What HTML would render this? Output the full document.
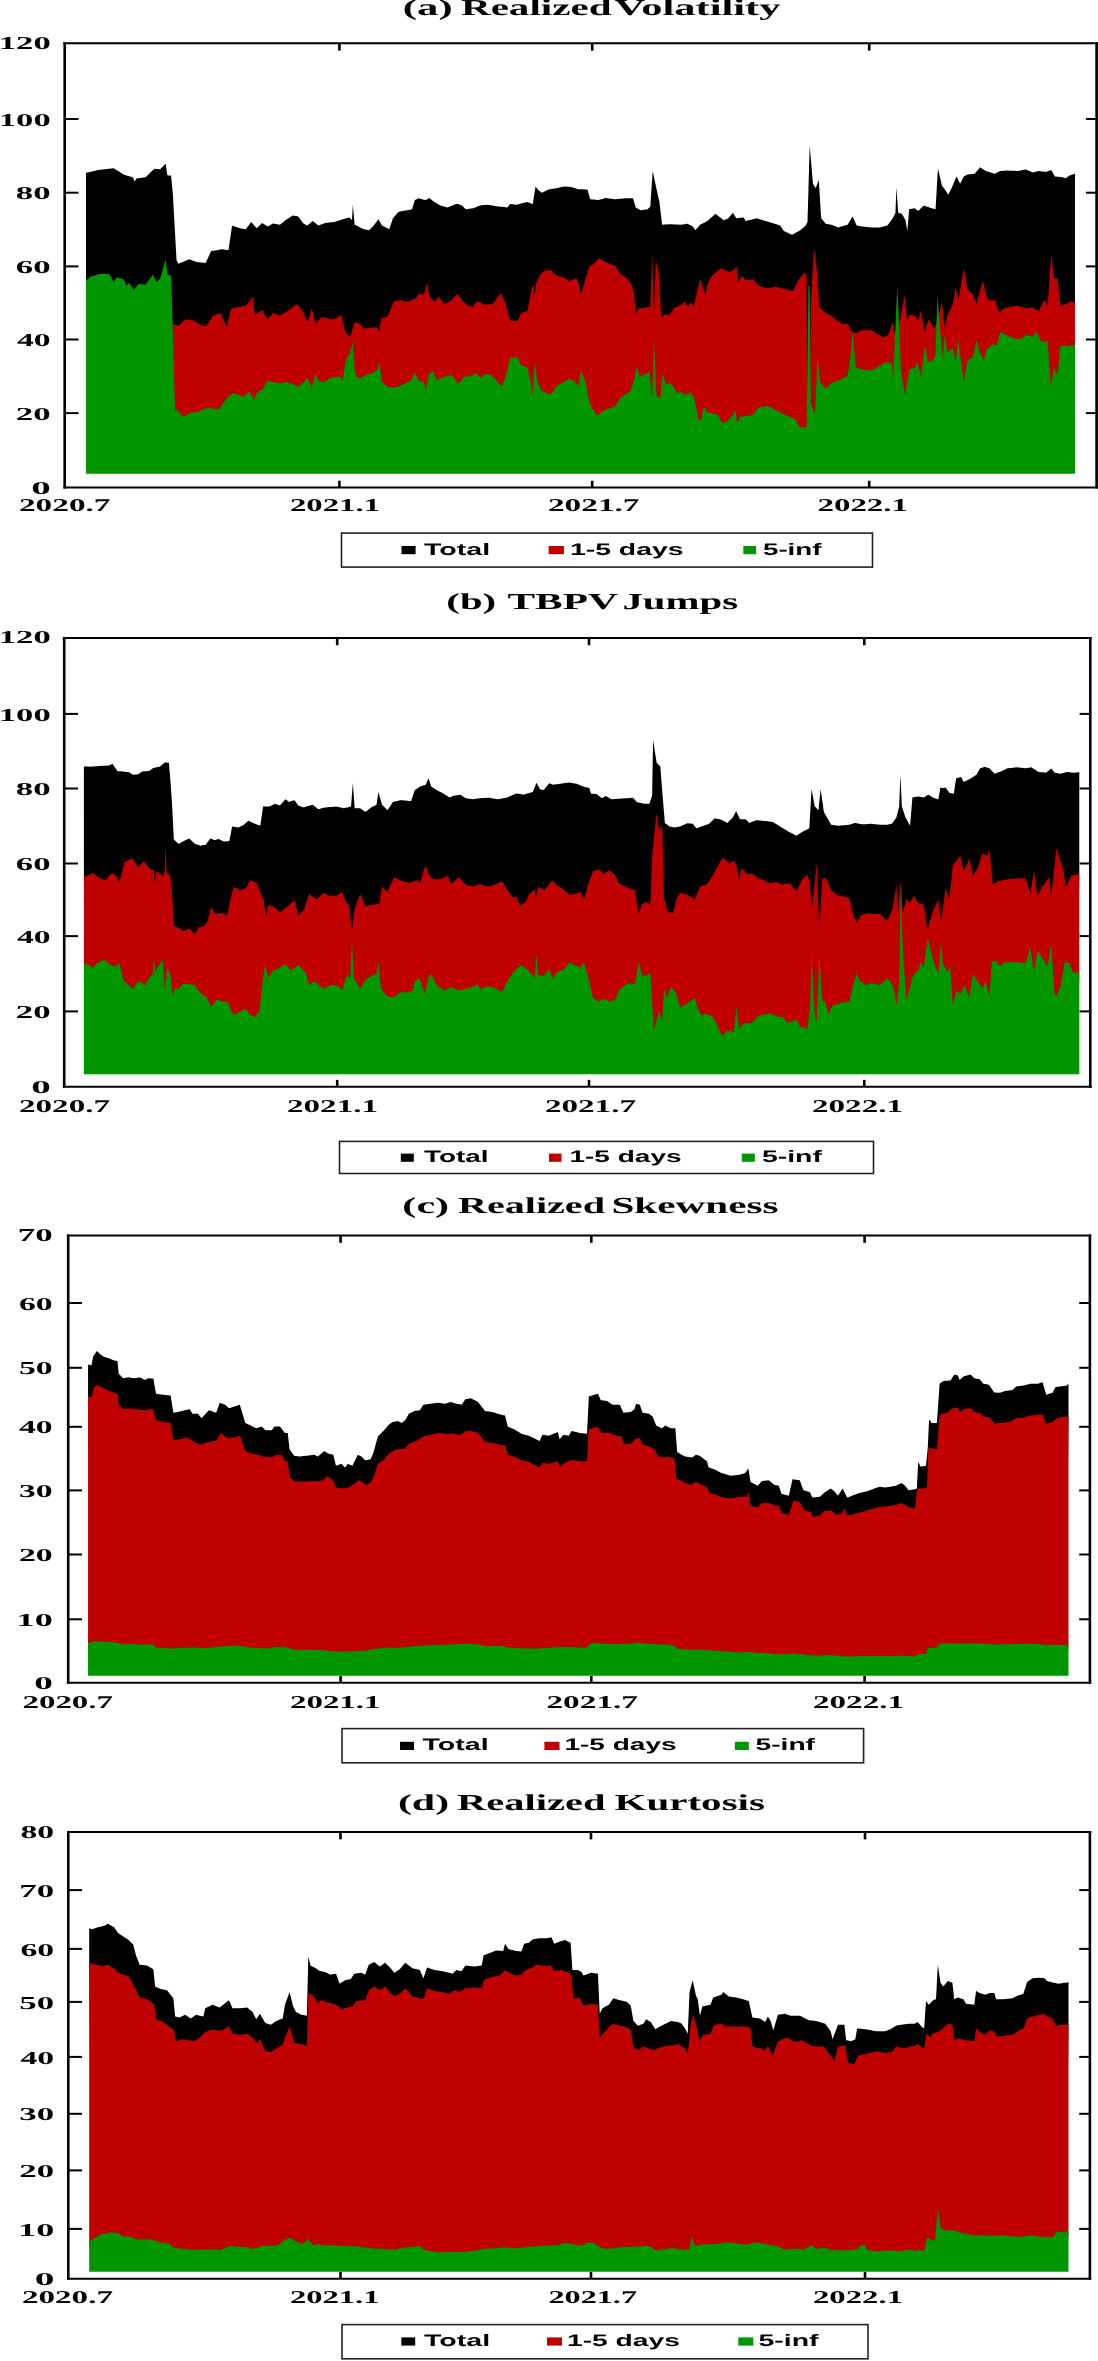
<!DOCTYPE html>
<html><head><meta charset="utf-8"><style>
html,body{margin:0;padding:0;background:#fff;}
svg{display:block;will-change:transform;text-rendering:geometricPrecision;filter:blur(0.4px);}
</style></head><body>
<svg width="1098" height="2361" viewBox="0 0 1098 2361">
<rect width="1098" height="2361" fill="#fff"/>
<path d="M86.00,282.26 L86.00,172.79 L86.38,172.79 L90.93,171.74 L98.21,170.05 L100.04,169.84 L109.14,168.77 L113.70,168.23 L116.43,169.97 L123.72,174.61 L126.45,175.43 L129.18,176.25 L132.82,177.34 L133.73,179.44 L134.64,181.53 L136.47,178.62 L138.29,178.36 L145.57,177.34 L151.95,170.97 L152.86,170.24 L154.68,168.78 L156.50,168.90 L160.15,169.14 L165.61,163.68 L167.43,175.52 L171.07,175.52 L171.99,185.08 L172.17,186.99 L172.53,190.82 L172.90,194.64 L175.08,233.99 L176.54,260.22 L178.36,263.86 L183.83,261.58 L185.65,260.83 L189.29,259.31 L191.11,259.99 L196.58,262.04 L198.40,262.22 L205.68,262.95 L207.50,259.00 L211.15,251.11 L212.97,250.81 L218.43,249.90 L220.26,249.59 L222.08,249.29 L223.90,249.55 L226.63,249.94 L227.54,250.07 L228.45,250.20 L231.18,231.76 L232.09,225.61 L233.01,225.91 L240.29,228.34 L243.93,228.95 L245.76,229.25 L249.40,224.40 L251.22,221.97 L253.04,224.09 L253.95,225.15 L254.86,226.22 L256.68,228.34 L262.15,222.88 L267.61,226.52 L273.08,223.42 L280.00,224.70 L285.46,220.15 L287.29,219.01 L292.75,215.59 L297.30,216.35 L298.21,216.50 L303.68,223.79 L307.32,225.61 L311.88,221.82 L312.79,221.06 L315.52,223.33 L318.25,225.61 L321.89,224.24 L323.72,223.56 L325.54,222.88 L331.00,222.33 L334.64,221.97 L336.47,221.36 L340.11,220.15 L341.02,219.87 L342.84,219.33 L345.57,218.51 L349.22,217.41 L350.13,218.32 L351.95,220.15 L352.86,204.66 L354.68,224.70 L356.50,225.61 L360.15,227.43 L363.79,229.25 L365.61,229.56 L369.25,230.16 L371.07,228.34 L372.90,226.52 L376.54,221.66 L377.45,220.45 L378.36,219.23 L379.27,220.83 L381.09,224.02 L382.00,225.61 L387.47,228.34 L389.29,229.25 L392.93,218.32 L393.84,217.26 L394.75,216.20 L398.40,211.95 L400.22,211.58 L403.86,210.86 L407.50,210.13 L411.15,209.40 L412.06,209.22 L414.79,200.11 L415.70,199.65 L418.43,198.29 L423.90,199.65 L425.72,200.11 L426.63,199.56 L428.45,198.47 L429.36,197.92 L433.01,201.02 L434.83,202.16 L436.65,203.30 L438.47,204.44 L440.29,205.57 L443.93,206.48 L447.58,207.40 L449.40,206.67 L451.22,205.94 L456.68,203.75 L457.60,204.06 L458.51,204.36 L462.15,205.57 L463.97,207.40 L465.79,209.22 L467.61,208.99 L471.26,208.53 L473.08,208.31 L475.81,207.23 L476.72,206.87 L480.00,205.57 L483.64,205.12 L485.46,204.89 L487.29,204.66 L490.93,205.30 L492.75,205.62 L494.57,205.94 L496.39,206.15 L500.95,206.67 L501.86,206.77 L505.50,207.19 L507.32,207.40 L510.05,204.12 L514.61,204.51 L516.43,204.66 L517.34,204.44 L518.25,204.21 L520.98,203.52 L527.36,201.93 L531.00,203.39 L532.82,204.12 L534.64,192.34 L535.56,186.45 L536.47,187.66 L537.38,188.88 L538.29,190.09 L540.11,191.46 L541.93,192.82 L545.57,191.00 L547.40,190.09 L549.22,189.18 L551.04,188.95 L556.50,188.27 L563.79,186.45 L569.25,186.86 L571.07,186.99 L574.72,188.09 L576.54,188.63 L578.36,189.18 L579.27,189.22 L581.09,189.29 L585.65,189.47 L587.47,189.54 L589.29,195.98 L590.20,199.20 L592.93,199.50 L593.84,199.60 L597.49,200.01 L598.40,200.11 L602.04,199.02 L603.86,198.47 L605.68,197.92 L607.50,198.18 L609.33,198.43 L614.79,199.20 L620.26,198.74 L625.72,198.29 L630.27,198.29 L631.18,198.29 L633.01,198.29 L633.92,201.32 L635.74,207.40 L636.65,207.94 L638.47,209.03 L639.38,209.58 L640.29,210.13 L643.93,209.67 L645.76,209.44 L647.58,209.22 L649.40,207.40 L650.31,206.48 L652.13,179.16 L652.68,170.97 L653.95,176.97 L655.77,185.54 L656.68,189.64 L658.51,197.83 L659.42,201.93 L660.33,209.52 L661.24,217.11 L662.15,224.70 L663.97,224.56 L665.79,224.43 L669.44,224.15 L671.26,224.25 L674.90,224.44 L676.72,224.53 L680.00,224.70 L684.55,224.13 L685.46,224.02 L687.29,223.79 L688.20,224.24 L690.93,225.61 L692.75,226.52 L693.66,227.74 L694.57,228.95 L695.48,230.16 L696.39,229.07 L698.21,226.89 L700.04,224.70 L700.95,224.24 L703.68,222.88 L705.50,221.97 L706.41,221.51 L707.32,221.06 L711.88,217.01 L715.52,213.77 L718.25,215.90 L720.98,218.02 L721.89,218.73 L723.72,220.15 L727.36,218.69 L728.27,218.32 L729.18,217.23 L732.82,212.86 L734.64,215.59 L735.56,216.96 L736.47,218.32 L737.38,218.21 L738.29,218.10 L740.11,217.87 L741.93,217.64 L743.75,217.41 L745.57,221.06 L752.86,219.23 L756.50,218.32 L758.32,218.87 L765.61,221.06 L767.43,221.60 L774.72,223.79 L780.18,225.61 L782.00,228.34 L783.83,231.07 L789.29,233.50 L792.02,234.72 L792.93,234.21 L794.75,233.20 L798.40,231.18 L799.31,230.67 L800.22,230.16 L803.86,227.13 L805.68,225.61 L806.59,223.79 L807.50,221.97 L808.42,190.09 L809.69,145.46 L810.78,158.21 L812.97,183.72 L813.88,185.23 L815.15,187.36 L815.70,188.27 L816.61,185.86 L817.52,183.45 L818.80,180.07 L819.34,188.90 L820.26,203.61 L821.17,218.32 L825.72,223.79 L831.18,224.70 L836.65,226.75 L838.47,227.43 L842.11,226.34 L847.58,224.70 L850.31,220.31 L851.22,218.84 L852.68,216.50 L855.77,223.54 L856.68,225.61 L862.15,226.52 L871.26,227.43 L880.00,227.43 L883.64,226.52 L885.46,226.07 L887.29,225.61 L888.20,224.40 L891.84,219.54 L892.75,218.32 L893.11,217.60 L894.57,214.68 L895.48,212.86 L896.39,187.36 L897.30,200.11 L898.21,212.86 L899.13,213.09 L900.95,213.54 L901.86,213.77 L904.59,218.55 L905.14,219.51 L905.50,220.15 L907.32,231.07 L909.14,209.22 L914.61,208.31 L917.34,210.36 L918.25,211.04 L920.98,208.31 L923.72,205.57 L924.63,205.88 L928.27,207.09 L929.18,207.40 L932.82,208.44 L934.64,208.96 L935.56,209.22 L937.38,177.69 L937.92,168.23 L940.11,177.67 L941.93,185.54 L942.84,186.75 L944.66,189.18 L947.40,193.28 L948.31,194.64 L951.95,187.36 L952.86,185.17 L955.59,178.62 L956.50,176.43 L958.32,180.07 L960.15,183.72 L963.79,176.43 L967.43,174.61 L972.90,173.93 L974.72,173.70 L976.54,171.57 L979.27,168.38 L980.18,167.32 L982.91,169.14 L983.83,169.75 L985.65,170.97 L986.56,171.24 L987.47,171.51 L992.93,173.15 L994.75,173.70 L996.58,172.79 L999.31,171.42 L1000.22,170.97 L1003.86,170.78 L1007.50,170.60 L1011.15,170.72 L1014.79,170.84 L1018.43,170.97 L1020.26,170.60 L1025.72,169.51 L1033.01,172.42 L1036.65,171.45 L1038.47,170.97 L1040.29,171.19 L1044.85,171.76 L1045.76,171.88 L1047.58,171.27 L1050.86,170.18 L1051.22,170.05 L1053.95,174.84 L1054.86,176.43 L1057.60,176.77 L1060.33,177.11 L1062.15,177.34 L1065.79,178.25 L1069.44,175.52 L1071.26,174.91 L1074.90,173.70 L1075.00,173.70 L1075.00,305.02 L1072.00,471.70 L89.00,471.70Z" fill="#000"/>
<path d="M86.00,471.20 L86.00,471.20 L86.38,471.20 L90.93,471.20 L98.21,471.20 L100.04,471.20 L109.14,471.20 L113.70,471.20 L116.43,471.20 L123.72,471.20 L126.45,471.20 L129.18,471.20 L132.82,471.20 L133.73,471.20 L134.64,471.20 L136.47,471.20 L138.29,471.20 L145.57,471.20 L151.95,471.20 L152.86,471.20 L154.68,471.20 L156.50,471.20 L160.15,471.20 L165.61,471.20 L167.43,471.20 L171.07,471.20 L171.99,471.20 L172.17,323.97 L172.53,324.08 L172.90,324.19 L175.08,324.83 L176.54,325.26 L178.36,325.79 L183.83,321.01 L185.65,319.42 L189.29,319.42 L191.11,319.42 L196.58,322.83 L198.40,323.97 L205.68,326.70 L207.50,323.97 L211.15,318.51 L212.97,315.77 L218.43,313.72 L220.26,313.04 L222.08,316.95 L223.90,320.85 L226.63,326.70 L227.54,323.06 L228.45,319.42 L231.18,308.49 L232.09,308.31 L233.01,308.12 L240.29,306.67 L243.93,306.06 L245.76,305.76 L249.40,301.20 L251.22,298.93 L253.04,296.65 L253.95,305.76 L254.86,314.86 L256.68,313.72 L262.15,310.31 L267.61,319.42 L273.08,313.04 L280.00,315.77 L285.46,312.36 L287.29,311.22 L292.75,307.25 L297.30,303.93 L298.21,305.24 L303.68,313.04 L307.32,322.15 L311.88,308.49 L312.79,312.36 L315.52,323.97 L318.25,320.85 L321.89,316.68 L323.72,317.23 L325.54,317.78 L331.00,319.42 L334.64,318.81 L336.47,318.51 L340.11,315.59 L341.02,314.86 L342.84,322.15 L345.57,333.08 L349.22,335.99 L350.13,336.72 L351.95,330.89 L352.86,327.98 L354.68,322.15 L356.50,322.76 L360.15,323.97 L363.79,328.52 L365.61,328.30 L369.25,327.84 L371.07,327.61 L372.90,327.61 L376.54,327.61 L377.45,328.83 L378.36,330.04 L379.27,331.26 L381.09,318.51 L382.00,318.25 L387.47,316.68 L389.29,312.26 L392.93,303.41 L393.84,301.20 L394.75,301.07 L398.40,300.55 L400.22,300.29 L403.86,301.20 L407.50,302.11 L411.15,300.49 L412.06,300.09 L414.79,298.87 L415.70,298.47 L418.43,293.92 L423.90,294.83 L425.72,286.93 L426.63,282.99 L428.45,292.09 L429.36,296.65 L433.01,300.29 L434.83,302.11 L436.65,299.38 L438.47,296.65 L440.29,299.08 L443.93,303.93 L447.58,302.72 L449.40,302.11 L451.22,300.29 L456.68,294.83 L457.60,293.92 L458.51,295.19 L462.15,300.29 L463.97,302.11 L465.79,303.93 L467.61,305.76 L471.26,306.36 L473.08,306.67 L475.81,302.11 L476.72,302.11 L480.00,302.11 L483.64,304.85 L485.46,304.66 L487.29,304.48 L490.93,304.12 L492.75,303.93 L494.57,301.51 L496.39,299.08 L500.95,293.01 L501.86,295.19 L505.50,303.93 L507.32,310.49 L510.05,320.33 L514.61,321.24 L516.43,320.78 L517.34,320.56 L518.25,320.33 L520.98,313.04 L527.36,311.22 L531.00,293.01 L532.82,283.90 L534.64,294.83 L535.56,288.45 L536.47,282.08 L537.38,280.26 L538.29,278.43 L540.11,274.79 L541.93,273.27 L545.57,270.24 L547.40,270.24 L549.22,270.24 L551.04,270.24 L556.50,275.70 L563.79,277.52 L569.25,281.17 L571.07,280.48 L574.72,279.12 L576.54,278.43 L578.36,283.29 L579.27,285.72 L581.09,294.83 L585.65,278.43 L587.47,272.51 L589.29,266.59 L590.20,266.05 L592.93,264.41 L593.84,263.86 L597.49,259.49 L598.40,258.40 L602.04,260.22 L603.86,261.13 L605.68,262.04 L607.50,262.95 L609.33,263.86 L614.79,265.68 L620.26,273.88 L625.72,277.52 L630.27,282.84 L631.18,283.90 L633.01,289.97 L633.92,293.01 L635.74,314.86 L636.65,312.74 L638.47,308.49 L639.38,308.37 L640.29,308.26 L643.93,307.81 L645.76,307.58 L647.58,307.21 L649.40,306.85 L650.31,306.67 L652.13,252.93 L652.68,271.51 L653.95,314.86 L655.77,261.13 L656.68,264.47 L658.51,271.15 L659.42,286.93 L660.33,302.72 L661.24,318.51 L662.15,317.29 L663.97,314.86 L665.79,314.86 L669.44,314.86 L671.26,312.43 L674.90,307.58 L676.72,306.93 L680.00,305.76 L684.55,302.11 L685.46,303.25 L687.29,305.53 L688.20,306.67 L690.93,302.11 L692.75,305.15 L693.66,306.67 L694.57,302.72 L695.48,298.77 L696.39,294.83 L698.21,286.63 L700.04,278.43 L700.95,281.62 L703.68,291.18 L705.50,294.83 L706.41,289.82 L707.32,284.81 L711.88,275.70 L715.52,272.79 L718.25,270.60 L720.98,268.42 L721.89,268.82 L723.72,269.63 L727.36,271.25 L728.27,271.65 L729.18,272.06 L732.82,270.24 L734.64,269.33 L735.56,267.50 L736.47,265.68 L737.38,273.88 L738.29,282.08 L740.11,278.89 L741.93,275.70 L743.75,277.98 L745.57,280.26 L752.86,279.34 L756.50,283.59 L758.32,285.72 L765.61,287.91 L767.43,288.45 L774.72,286.63 L780.18,288.00 L782.00,288.45 L783.83,288.91 L789.29,290.27 L792.02,290.96 L792.93,291.18 L794.75,287.54 L798.40,280.26 L799.31,279.04 L800.22,277.83 L803.86,272.97 L805.68,274.18 L806.59,274.79 L807.50,413.22 L808.42,413.22 L809.69,413.22 L810.78,303.93 L812.97,264.72 L813.88,248.38 L815.15,257.30 L815.70,261.13 L816.61,267.50 L817.52,280.86 L818.80,299.56 L819.34,307.58 L820.26,308.36 L821.17,309.14 L825.72,313.04 L831.18,315.77 L836.65,320.33 L838.47,321.54 L842.11,323.97 L847.58,323.97 L850.31,329.44 L851.22,331.26 L852.68,331.84 L855.77,333.08 L856.68,332.69 L862.15,330.35 L871.26,330.35 L880.00,335.81 L883.64,337.63 L885.46,336.54 L887.29,335.45 L888.20,334.90 L891.84,324.70 L892.75,322.15 L893.11,324.34 L894.57,333.08 L895.48,332.17 L896.39,331.26 L897.30,330.35 L898.21,329.44 L899.13,324.58 L900.95,314.86 L901.86,310.08 L904.59,295.74 L905.14,301.02 L905.50,304.54 L907.32,322.15 L909.14,314.86 L914.61,315.77 L917.34,319.19 L918.25,320.33 L920.98,310.31 L923.72,326.70 L924.63,332.17 L928.27,319.42 L929.18,320.72 L932.82,325.92 L934.64,328.52 L935.56,325.19 L937.38,318.51 L937.92,316.54 L940.11,308.67 L941.93,302.11 L942.84,310.61 L944.66,327.61 L947.40,315.77 L948.31,313.80 L951.95,305.91 L952.86,303.93 L955.59,287.54 L956.50,291.79 L958.32,300.29 L960.15,289.67 L963.79,268.42 L967.43,289.36 L972.90,294.83 L974.72,299.38 L976.54,303.93 L979.27,293.01 L980.18,290.05 L982.91,281.17 L983.83,284.99 L985.65,292.64 L986.56,296.47 L987.47,300.29 L992.93,300.29 L994.75,300.29 L996.58,305.39 L999.31,313.04 L1000.22,312.13 L1003.86,308.49 L1007.50,307.58 L1011.15,306.67 L1014.79,306.21 L1018.43,305.76 L1020.26,306.44 L1025.72,308.49 L1033.01,307.58 L1036.65,310.01 L1038.47,311.22 L1040.29,307.84 L1044.85,299.38 L1045.76,302.11 L1047.58,307.58 L1050.86,259.22 L1051.22,253.84 L1053.95,278.43 L1054.86,278.43 L1057.60,278.43 L1060.33,305.76 L1062.15,305.15 L1065.79,303.93 L1069.44,302.11 L1071.26,301.20 L1074.90,303.02 L1075.00,303.02 L1075.00,346.92 L1072.00,471.70 L89.00,471.70Z" fill="#C00000"/>
<path d="M86.00,473.70 L86.00,280.26 L86.38,280.26 L90.93,276.61 L98.21,274.43 L100.04,273.88 L109.14,273.88 L113.70,282.08 L116.43,277.52 L123.72,279.34 L126.45,285.72 L129.18,282.99 L132.82,288.82 L133.73,290.27 L134.64,289.00 L136.47,286.45 L138.29,283.90 L145.57,284.81 L151.95,276.04 L152.86,274.79 L154.68,278.43 L156.50,282.08 L160.15,278.43 L165.61,259.31 L167.43,274.79 L171.07,275.70 L171.99,304.73 L172.17,310.54 L172.53,322.15 L172.90,334.90 L175.08,411.40 L176.54,409.58 L178.36,411.40 L183.83,416.87 L185.65,415.65 L189.29,413.22 L191.11,412.86 L196.58,411.77 L198.40,411.40 L205.68,408.49 L207.50,407.76 L211.15,408.37 L212.97,408.67 L218.43,409.58 L220.26,407.15 L222.08,404.72 L223.90,402.30 L226.63,398.20 L227.54,396.83 L228.45,396.22 L231.18,394.40 L232.09,393.79 L233.01,393.19 L240.29,395.62 L243.93,396.83 L245.76,395.01 L249.40,391.37 L251.22,395.01 L253.04,398.65 L253.95,400.47 L254.86,398.04 L256.68,393.19 L262.15,389.54 L267.61,380.44 L273.08,382.26 L280.00,383.17 L285.46,382.49 L287.29,382.26 L292.75,384.08 L297.30,386.36 L298.21,386.81 L303.68,382.26 L307.32,377.70 L311.88,387.72 L312.79,384.08 L315.52,373.15 L318.25,380.44 L321.89,381.65 L323.72,382.26 L325.54,381.12 L331.00,377.70 L334.64,377.10 L336.47,376.79 L340.11,376.79 L341.02,378.01 L342.84,380.44 L345.57,360.40 L349.22,354.94 L350.13,351.75 L351.95,345.37 L352.86,342.19 L354.68,369.51 L356.50,376.79 L360.15,378.62 L363.79,376.19 L365.61,374.97 L369.25,374.06 L371.07,373.61 L372.90,373.15 L376.54,370.24 L377.45,369.51 L378.36,365.41 L379.27,361.31 L381.09,375.28 L382.00,382.26 L387.47,386.81 L389.29,387.04 L392.93,387.50 L393.84,387.61 L394.75,387.72 L398.40,386.27 L400.22,385.54 L403.86,384.08 L407.50,382.26 L411.15,380.44 L412.06,378.39 L414.79,372.24 L415.70,374.29 L418.43,380.44 L423.90,382.26 L425.72,390.46 L426.63,385.29 L428.45,374.97 L429.36,374.24 L433.01,371.33 L434.83,375.88 L436.65,380.44 L438.47,379.53 L440.29,378.62 L443.93,376.79 L447.58,375.88 L449.40,375.43 L451.22,374.97 L456.68,381.80 L457.60,382.94 L458.51,384.08 L462.15,379.22 L463.97,376.79 L465.79,376.57 L467.61,376.34 L471.26,375.88 L473.08,374.97 L475.81,373.61 L476.72,373.15 L480.00,377.70 L483.64,375.28 L485.46,374.06 L487.29,374.37 L490.93,374.97 L492.75,376.79 L494.57,378.62 L496.39,380.44 L500.95,385.75 L501.86,386.81 L505.50,376.79 L507.32,369.51 L510.05,358.58 L514.61,357.44 L516.43,356.99 L517.34,356.76 L518.25,358.81 L520.98,364.95 L527.36,367.69 L531.00,384.08 L532.82,395.01 L534.64,361.31 L535.56,368.29 L536.47,375.28 L537.38,382.26 L538.29,384.08 L540.11,387.72 L541.93,391.37 L545.57,392.58 L547.40,393.19 L549.22,393.64 L551.04,394.10 L556.50,385.90 L563.79,382.26 L569.25,378.62 L571.07,379.53 L574.72,381.35 L576.54,383.62 L578.36,385.90 L579.27,380.74 L581.09,370.42 L585.65,382.26 L587.47,392.28 L589.29,402.30 L590.20,404.12 L592.93,409.58 L593.84,410.86 L597.49,415.96 L598.40,415.05 L602.04,411.40 L603.86,410.49 L605.68,409.58 L607.50,408.67 L609.33,408.21 L614.79,406.85 L620.26,397.74 L625.72,394.10 L630.27,391.37 L631.18,388.63 L633.01,383.17 L633.92,380.44 L635.74,371.33 L636.65,366.78 L638.47,372.85 L639.38,375.88 L640.29,375.70 L643.93,374.97 L645.76,373.76 L647.58,372.54 L649.40,371.33 L650.31,380.44 L652.13,398.65 L652.68,380.62 L653.95,338.54 L655.77,377.40 L656.68,396.83 L658.51,397.29 L659.42,397.51 L660.33,397.74 L661.24,385.45 L662.15,373.15 L663.97,378.62 L665.79,384.08 L669.44,383.47 L671.26,383.17 L674.90,389.85 L676.72,393.19 L680.00,391.37 L684.55,394.40 L685.46,395.01 L687.29,394.10 L688.20,393.64 L690.93,392.28 L692.75,395.46 L693.66,397.06 L694.57,398.65 L695.48,403.66 L696.39,408.67 L698.21,418.69 L700.04,419.90 L700.95,420.51 L703.68,405.94 L705.50,409.58 L706.41,411.40 L707.32,411.71 L711.88,413.22 L715.52,414.26 L718.25,415.05 L720.98,421.19 L721.89,423.24 L723.72,422.64 L727.36,421.42 L728.27,420.36 L729.18,419.30 L732.82,415.05 L734.64,411.40 L735.56,409.58 L736.47,416.87 L737.38,424.15 L738.29,421.72 L740.11,416.87 L741.93,416.56 L743.75,416.26 L745.57,415.96 L752.86,415.05 L756.50,410.19 L758.32,407.76 L765.61,406.30 L767.43,405.94 L774.72,409.58 L780.18,412.31 L782.00,413.22 L783.83,414.13 L789.29,416.87 L792.02,417.78 L792.93,418.08 L794.75,418.69 L798.40,425.25 L799.31,426.89 L800.22,427.07 L803.86,427.80 L805.68,427.19 L806.59,426.89 L807.50,356.30 L808.42,285.72 L809.69,285.72 L810.78,404.12 L812.97,409.26 L813.88,411.40 L815.15,413.22 L815.70,400.19 L816.61,378.48 L817.52,356.76 L818.80,368.66 L819.34,373.76 L820.26,382.26 L821.17,383.32 L825.72,388.63 L831.18,383.17 L836.65,381.12 L838.47,380.44 L842.11,378.62 L847.58,375.88 L850.31,358.58 L851.22,348.07 L852.68,331.26 L855.77,367.69 L856.68,367.95 L862.15,369.51 L871.26,370.42 L880.00,365.87 L883.64,363.44 L885.46,362.22 L887.29,362.48 L888.20,362.61 L891.84,363.13 L892.75,376.79 L893.11,382.26 L894.57,347.51 L895.48,325.79 L896.39,305.76 L897.30,285.72 L898.21,305.76 L899.13,325.79 L900.95,371.33 L901.86,376.48 L904.59,391.92 L905.14,395.01 L905.50,392.69 L907.32,381.10 L909.14,369.51 L914.61,367.69 L917.34,362.22 L918.25,365.87 L920.98,376.79 L923.72,353.57 L924.63,345.83 L928.27,362.22 L929.18,361.86 L932.82,360.40 L934.64,356.76 L935.56,354.94 L937.38,294.83 L937.92,302.11 L940.11,331.26 L941.93,349.47 L942.84,358.58 L944.66,334.90 L947.40,353.11 L948.31,352.20 L951.95,348.56 L952.86,347.65 L955.59,362.22 L956.50,354.94 L958.32,340.36 L960.15,354.33 L963.79,382.26 L967.43,360.40 L972.90,356.76 L974.72,348.56 L976.54,340.36 L979.27,351.29 L980.18,353.11 L982.91,358.58 L983.83,360.40 L985.65,353.11 L986.56,349.47 L987.47,348.69 L992.93,344.01 L994.75,344.92 L996.58,345.83 L999.31,335.58 L1000.22,332.17 L1003.86,333.99 L1007.50,335.81 L1011.15,337.18 L1014.79,338.54 L1018.43,339.15 L1020.26,339.45 L1025.72,334.90 L1033.01,336.72 L1036.65,331.26 L1038.47,335.81 L1040.29,340.36 L1044.85,342.19 L1045.76,341.58 L1047.58,340.36 L1050.86,387.72 L1051.22,385.37 L1053.95,367.69 L1054.86,369.51 L1057.60,374.97 L1060.33,345.83 L1062.15,345.83 L1065.79,345.83 L1069.44,345.83 L1071.26,345.83 L1074.90,344.92 L1075.00,344.92 L1075.00,473.70Z" fill="#009600"/>
<line x1="63.40" y1="43.30" x2="1097.90" y2="43.30" stroke="#000" stroke-width="2.0"/>
<line x1="63.40" y1="487.50" x2="1097.90" y2="487.50" stroke="#000" stroke-width="2.0"/>
<line x1="64.70" y1="42.30" x2="64.70" y2="488.50" stroke="#000" stroke-width="2.6"/>
<line x1="1096.60" y1="42.30" x2="1096.60" y2="488.50" stroke="#000" stroke-width="2.6"/>
<line x1="64.70" y1="119.00" x2="78.50" y2="119.00" stroke="#000" stroke-width="2.0"/>
<line x1="1096.60" y1="119.00" x2="1085.90" y2="119.00" stroke="#000" stroke-width="2.0"/>
<line x1="64.70" y1="192.70" x2="78.50" y2="192.70" stroke="#000" stroke-width="2.0"/>
<line x1="1096.60" y1="192.70" x2="1085.90" y2="192.70" stroke="#000" stroke-width="2.0"/>
<line x1="64.70" y1="266.40" x2="78.50" y2="266.40" stroke="#000" stroke-width="2.0"/>
<line x1="1096.60" y1="266.40" x2="1085.90" y2="266.40" stroke="#000" stroke-width="2.0"/>
<line x1="64.70" y1="339.50" x2="78.50" y2="339.50" stroke="#000" stroke-width="2.0"/>
<line x1="1096.60" y1="339.50" x2="1085.90" y2="339.50" stroke="#000" stroke-width="2.0"/>
<line x1="64.70" y1="413.10" x2="78.50" y2="413.10" stroke="#000" stroke-width="2.0"/>
<line x1="1096.60" y1="413.10" x2="1085.90" y2="413.10" stroke="#000" stroke-width="2.0"/>
<line x1="339.40" y1="487.50" x2="339.40" y2="480.70" stroke="#000" stroke-width="2.6"/>
<line x1="339.40" y1="43.30" x2="339.40" y2="50.60" stroke="#000" stroke-width="2.6"/>
<line x1="592.20" y1="487.50" x2="592.20" y2="480.70" stroke="#000" stroke-width="2.6"/>
<line x1="592.20" y1="43.30" x2="592.20" y2="50.60" stroke="#000" stroke-width="2.6"/>
<line x1="869.20" y1="487.50" x2="869.20" y2="480.70" stroke="#000" stroke-width="2.6"/>
<line x1="869.20" y1="43.30" x2="869.20" y2="50.60" stroke="#000" stroke-width="2.6"/>
<rect x="341.5" y="533.1" width="531.0" height="34.0" fill="none" stroke="#222" stroke-width="1.6"/>
<rect x="401.5" y="546.0" width="14.1" height="8.2" fill="#000"/>
<rect x="548.6" y="546.0" width="15.3" height="8.2" fill="#C00000"/>
<rect x="743.3" y="546.0" width="12.8" height="8.2" fill="#009600"/>
<path d="M83.90,878.63 L83.90,766.43 L84.01,766.43 L87.29,766.60 L90.93,766.79 L92.75,766.61 L97.30,766.16 L98.21,766.07 L104.59,765.75 L105.50,765.70 L109.14,765.52 L110.05,765.01 L111.88,764.00 L112.42,763.70 L115.52,768.29 L116.43,769.63 L117.34,770.98 L119.16,771.14 L123.72,771.53 L124.63,771.65 L129.18,772.26 L131.91,774.03 L132.82,774.63 L136.47,774.38 L138.29,774.26 L140.11,772.90 L141.93,771.53 L143.75,771.39 L144.66,771.33 L149.22,770.98 L152.86,768.25 L153.77,768.02 L154.68,767.80 L155.59,767.57 L156.50,767.34 L158.32,766.89 L160.15,766.43 L162.88,764.03 L164.70,762.42 L165.61,762.50 L166.70,762.60 L167.43,762.66 L168.89,762.79 L170.16,777.36 L171.99,802.86 L172.90,821.07 L173.81,839.29 L174.72,840.20 L178.36,843.84 L179.27,843.39 L182.91,841.57 L183.83,841.11 L189.29,838.38 L194.75,843.84 L199.31,845.36 L200.22,845.66 L203.86,845.06 L205.68,844.75 L207.50,842.20 L210.24,838.38 L211.15,838.74 L214.79,840.20 L216.61,839.56 L218.43,838.93 L220.26,839.78 L222.08,840.63 L223.90,841.48 L227.54,841.23 L229.36,841.11 L230.27,836.25 L231.18,831.40 L232.09,826.54 L233.92,826.80 L238.47,827.45 L240.29,826.54 L243.93,824.72 L245.76,823.11 L248.49,820.71 L249.40,821.15 L250.31,821.60 L254.86,823.81 L256.68,824.41 L259.42,825.32 L260.33,825.63 L262.15,812.88 L263.06,806.50 L263.97,806.50 L264.88,806.50 L265.79,806.50 L268.52,806.50 L269.44,806.50 L273.08,804.68 L274.90,803.77 L276.72,804.42 L280.00,805.59 L285.46,799.22 L287.29,800.58 L289.11,801.95 L290.93,801.34 L294.57,800.13 L298.21,805.59 L303.68,807.41 L305.50,806.87 L309.14,805.77 L312.79,804.68 L314.61,806.20 L316.43,807.72 L318.25,809.23 L323.72,807.87 L325.54,807.41 L329.18,807.11 L331.00,806.96 L336.47,806.50 L338.29,806.96 L341.93,807.87 L343.75,808.32 L345.57,807.87 L347.40,807.41 L349.22,806.96 L350.13,806.73 L351.04,806.50 L351.95,794.66 L352.86,782.82 L353.77,795.57 L354.68,808.32 L360.15,808.32 L365.61,811.97 L371.07,807.41 L376.54,804.68 L378.36,791.93 L379.27,795.12 L381.09,801.49 L382.00,804.68 L385.65,808.32 L387.47,810.15 L392.93,801.95 L393.84,801.72 L400.22,800.13 L402.04,800.28 L407.50,800.73 L409.33,800.89 L411.15,801.04 L412.97,795.57 L414.79,790.11 L416.61,788.89 L419.34,787.07 L420.26,786.47 L424.81,784.95 L425.36,784.77 L425.72,784.64 L428.45,778.27 L429.36,781.00 L431.18,786.47 L433.01,787.68 L436.65,790.11 L440.29,791.93 L442.11,792.84 L443.93,793.98 L447.58,796.26 L449.40,797.40 L451.22,796.79 L454.86,795.57 L458.51,794.97 L460.33,794.66 L465.79,798.31 L473.08,799.22 L477.63,798.62 L480.00,798.31 L487.29,797.87 L489.11,797.76 L494.57,798.63 L498.21,799.22 L501.86,798.49 L507.32,797.40 L512.79,794.99 L514.61,794.19 L516.43,793.39 L520.07,794.03 L521.89,794.34 L523.72,794.66 L525.54,794.12 L528.27,793.30 L529.18,793.02 L532.82,791.93 L534.64,787.38 L535.56,785.10 L536.47,782.82 L538.29,786.01 L540.11,789.20 L543.75,790.11 L547.40,785.49 L549.22,783.19 L551.95,784.28 L552.86,784.64 L556.50,784.19 L560.15,783.73 L561.97,783.48 L563.79,783.22 L569.25,782.46 L574.72,783.42 L576.54,783.73 L580.18,785.28 L583.83,786.83 L588.38,787.74 L589.29,787.92 L591.11,793.75 L592.93,793.87 L596.58,794.12 L598.40,795.51 L602.04,798.31 L603.86,797.12 L605.68,795.94 L609.33,798.12 L611.15,799.22 L614.79,799.03 L615.70,798.99 L618.43,798.85 L625.72,798.31 L627.54,798.17 L629.36,798.03 L633.01,797.76 L634.83,799.85 L636.65,801.95 L638.47,802.40 L638.83,802.50 L642.11,803.32 L643.93,803.77 L645.76,803.77 L647.58,803.77 L649.40,803.77 L650.31,801.04 L652.13,795.57 L653.04,740.02 L653.95,745.71 L656.32,760.51 L656.68,762.79 L659.42,765.52 L660.33,766.43 L662.15,790.11 L663.97,811.97 L664.88,822.90 L666.70,824.35 L667.61,825.08 L669.44,826.54 L671.26,826.84 L673.08,827.15 L674.90,827.45 L675.81,827.29 L676.72,827.12 L680.00,826.54 L687.29,823.26 L692.75,823.81 L694.57,826.08 L696.39,828.36 L698.21,827.68 L700.04,826.99 L701.86,826.31 L703.68,825.63 L705.50,825.02 L707.32,824.41 L709.14,823.81 L712.79,820.16 L713.70,819.25 L714.61,818.34 L716.43,818.65 L720.07,819.25 L721.89,820.16 L722.81,820.62 L727.36,822.90 L729.18,821.07 L732.82,817.43 L733.73,815.66 L736.10,811.06 L736.47,811.80 L737.38,813.66 L739.20,817.39 L740.11,819.25 L741.02,819.25 L743.75,819.25 L745.57,819.25 L747.40,821.07 L749.22,822.90 L751.04,822.21 L752.86,821.53 L756.50,820.16 L758.32,820.35 L763.79,820.89 L765.61,821.07 L769.25,821.53 L772.90,821.99 L776.54,824.26 L780.18,826.54 L782.00,827.68 L783.83,828.82 L787.47,831.09 L789.29,832.00 L796.58,835.65 L800.22,833.22 L802.04,832.00 L807.50,829.27 L809.33,828.36 L809.69,821.83 L810.24,812.04 L811.51,789.20 L812.06,792.08 L814.79,806.50 L816.61,808.32 L818.43,810.15 L819.34,801.42 L820.62,789.20 L822.08,799.32 L823.90,811.97 L825.72,815.15 L828.45,819.94 L831.18,824.72 L833.01,824.95 L838.47,825.63 L840.29,825.48 L843.93,825.17 L849.40,824.72 L853.04,823.50 L854.86,822.90 L856.68,823.26 L860.33,823.99 L862.15,824.35 L865.79,824.13 L867.61,824.03 L871.26,823.81 L873.08,824.00 L880.00,824.72 L887.29,824.72 L891.84,823.81 L892.75,822.53 L896.39,817.43 L896.76,815.97 L898.21,810.15 L899.13,806.50 L900.40,774.63 L900.95,786.58 L901.86,806.50 L902.77,809.23 L905.50,817.43 L906.41,819.07 L909.14,823.99 L910.05,825.63 L912.42,797.40 L912.79,797.34 L913.70,797.20 L918.25,796.48 L920.98,796.94 L923.72,797.40 L927.36,795.21 L927.72,794.99 L928.27,794.66 L931.91,796.85 L932.82,797.40 L938.29,799.58 L940.47,787.38 L941.02,787.59 L942.84,788.29 L945.57,787.38 L947.40,790.11 L949.22,792.84 L950.13,793.02 L952.86,793.57 L953.77,793.75 L956.14,778.27 L956.50,778.18 L960.15,777.23 L961.06,776.99 L963.79,781.91 L964.70,781.46 L969.25,779.18 L971.07,778.27 L972.90,777.06 L976.54,774.63 L978.36,771.44 L980.18,768.25 L982.00,767.67 L984.74,766.79 L985.65,767.09 L987.47,767.67 L989.29,768.25 L992.02,770.98 L992.93,771.89 L994.75,773.72 L996.58,773.03 L998.40,772.35 L1000.22,771.67 L1002.04,770.98 L1003.86,770.07 L1007.50,768.25 L1011.15,767.89 L1016.61,767.34 L1018.43,767.52 L1025.72,768.25 L1030.27,767.49 L1031.18,767.34 L1033.92,769.05 L1037.56,771.33 L1038.47,771.89 L1042.11,772.35 L1045.76,772.81 L1047.58,771.41 L1049.40,770.01 L1051.22,768.62 L1054.50,772.39 L1054.86,772.81 L1056.32,773.05 L1056.68,773.11 L1060.33,773.72 L1063.06,773.03 L1064.88,772.58 L1065.79,772.35 L1067.61,771.89 L1069.44,772.20 L1071.26,772.50 L1073.08,772.81 L1079.30,772.26 L1079.30,875.90 L1076.30,1072.30 L86.90,1072.30Z" fill="#000"/>
<path d="M83.90,966.97 L83.90,876.63 L84.01,876.63 L87.29,875.72 L90.93,873.90 L92.75,872.99 L97.30,876.78 L98.21,877.54 L104.59,879.93 L105.50,880.27 L109.14,876.11 L110.05,875.07 L111.88,872.99 L112.42,873.32 L115.52,875.17 L116.43,875.72 L117.34,878.15 L119.16,883.01 L123.72,865.55 L124.63,862.06 L129.18,859.78 L131.91,858.42 L132.82,859.72 L136.47,864.92 L138.29,867.52 L140.11,865.40 L141.93,863.27 L143.75,861.15 L144.66,862.36 L149.22,868.43 L152.86,869.89 L153.77,870.26 L154.68,883.01 L155.59,877.09 L156.50,871.17 L158.32,872.53 L160.15,873.90 L162.88,875.72 L164.70,872.08 L165.61,843.84 L166.70,872.08 L167.43,872.99 L168.89,874.44 L170.16,875.72 L171.99,893.93 L172.90,909.87 L173.81,925.81 L174.72,926.27 L178.36,928.09 L179.27,928.54 L182.91,930.73 L183.83,931.28 L189.29,928.54 L194.75,934.01 L199.31,926.72 L200.22,926.72 L203.86,926.72 L205.68,923.99 L207.50,921.26 L210.24,910.33 L211.15,906.68 L214.79,913.97 L216.61,913.67 L218.43,913.36 L220.26,913.06 L222.08,913.52 L223.90,913.97 L227.54,914.88 L229.36,904.56 L230.27,899.40 L231.18,896.21 L232.09,893.02 L233.92,886.65 L238.47,889.25 L240.29,890.29 L243.93,889.08 L245.76,888.47 L248.49,883.55 L249.40,881.91 L250.31,880.27 L254.86,882.22 L256.68,883.01 L259.42,890.29 L260.33,892.72 L262.15,897.58 L263.06,899.40 L263.97,901.22 L264.88,909.42 L265.79,917.61 L268.52,904.86 L269.44,905.23 L273.08,906.68 L274.90,908.05 L276.72,909.42 L280.00,912.15 L285.46,908.05 L287.29,906.68 L289.11,905.09 L290.93,903.50 L294.57,900.31 L298.21,915.79 L303.68,910.33 L305.50,904.86 L309.14,893.93 L312.79,896.67 L314.61,898.03 L316.43,899.40 L318.25,897.81 L323.72,893.02 L325.54,893.93 L329.18,895.76 L331.00,895.76 L336.47,895.76 L338.29,894.54 L341.93,892.11 L343.75,896.67 L345.57,901.22 L347.40,903.50 L349.22,905.77 L350.13,913.97 L351.04,922.17 L351.95,930.36 L352.86,923.08 L353.77,915.79 L354.68,908.51 L360.15,893.93 L365.61,906.68 L371.07,904.86 L376.54,904.26 L378.36,904.05 L379.27,903.95 L381.09,892.42 L382.00,886.65 L385.65,890.29 L387.47,892.11 L392.93,879.62 L393.84,877.54 L400.22,880.37 L402.04,881.18 L407.50,882.55 L409.33,883.01 L411.15,882.32 L412.97,881.64 L414.79,880.96 L416.61,880.27 L419.34,882.32 L420.26,883.01 L424.81,867.56 L425.36,865.70 L425.72,866.61 L428.45,873.44 L429.36,875.72 L431.18,877.54 L433.01,879.36 L436.65,879.36 L440.29,879.36 L442.11,878.45 L443.93,877.54 L447.58,875.72 L449.40,879.82 L451.22,883.92 L454.86,880.73 L458.51,877.54 L460.33,879.36 L465.79,884.83 L473.08,886.65 L477.63,884.85 L480.00,883.92 L487.29,886.65 L489.11,886.19 L494.57,884.83 L498.21,883.01 L501.86,881.18 L507.32,890.29 L512.79,897.58 L514.61,897.12 L516.43,896.67 L520.07,905.77 L521.89,904.56 L523.72,903.35 L525.54,902.13 L528.27,895.98 L529.18,893.93 L532.82,890.90 L534.64,889.38 L535.56,899.40 L536.47,895.15 L538.29,886.65 L540.11,887.86 L543.75,890.29 L547.40,886.65 L549.22,884.10 L551.95,880.27 L552.86,881.18 L556.50,884.83 L560.15,887.26 L561.97,888.47 L563.79,890.06 L569.25,894.85 L574.72,893.93 L576.54,893.33 L580.18,892.11 L583.83,899.40 L588.38,883.92 L589.29,881.37 L591.11,876.27 L592.93,871.17 L596.58,869.95 L598.40,869.34 L602.04,872.38 L603.86,873.90 L605.68,872.68 L609.33,870.26 L611.15,871.77 L614.79,874.81 L615.70,876.86 L618.43,883.01 L625.72,886.65 L627.54,887.56 L629.36,888.47 L633.01,889.68 L634.83,890.29 L636.65,902.13 L638.47,913.97 L638.83,912.97 L642.11,903.95 L643.93,903.04 L645.76,902.13 L647.58,903.22 L649.40,904.32 L650.31,904.86 L652.13,857.50 L653.04,848.00 L653.95,838.50 L656.32,813.79 L656.68,815.93 L659.42,832.00 L660.33,829.57 L662.15,824.72 L663.97,897.58 L664.88,901.22 L666.70,908.51 L667.61,912.15 L669.44,912.45 L671.26,912.76 L673.08,913.06 L674.90,905.77 L675.81,902.13 L676.72,898.49 L680.00,893.02 L687.29,894.85 L692.75,898.26 L694.57,899.40 L696.39,895.15 L698.21,890.90 L700.04,886.65 L701.86,885.97 L703.68,885.28 L705.50,884.60 L707.32,883.92 L709.14,881.05 L712.79,875.33 L713.70,873.90 L714.61,872.08 L716.43,868.43 L720.07,862.19 L721.89,859.07 L722.81,857.50 L727.36,862.06 L729.18,863.88 L732.82,860.97 L733.73,860.24 L736.10,865.56 L736.47,866.38 L737.38,868.43 L739.20,881.18 L740.11,874.81 L741.02,868.43 L743.75,870.78 L745.57,872.34 L747.40,873.90 L749.22,873.90 L751.04,873.90 L752.86,873.90 L756.50,876.93 L758.32,878.45 L763.79,880.27 L765.61,881.18 L769.25,883.01 L772.90,882.55 L776.54,882.09 L780.18,883.92 L782.00,884.83 L783.83,884.37 L787.47,883.46 L789.29,883.01 L796.58,891.20 L800.22,883.31 L802.04,879.36 L807.50,874.81 L809.33,881.64 L809.69,883.01 L810.24,888.89 L811.51,902.62 L812.06,908.51 L814.79,881.18 L816.61,862.97 L818.43,907.90 L819.34,930.36 L820.62,906.56 L822.08,879.36 L823.90,878.45 L825.72,877.54 L828.45,883.92 L831.18,890.29 L833.01,891.66 L838.47,895.76 L840.29,896.06 L843.93,896.67 L849.40,898.49 L853.04,913.97 L854.86,918.52 L856.68,923.08 L860.33,915.79 L862.15,915.11 L865.79,913.74 L867.61,913.06 L871.26,913.67 L873.08,913.97 L880.00,913.97 L887.29,921.26 L891.84,910.63 L892.75,908.51 L896.39,884.83 L896.76,890.29 L898.21,912.15 L899.13,899.25 L900.40,881.18 L900.95,888.33 L901.86,900.24 L902.77,912.15 L905.50,902.59 L906.41,899.40 L909.14,902.13 L910.05,903.04 L912.42,898.31 L912.79,897.58 L913.70,895.76 L918.25,903.04 L920.98,903.95 L923.72,904.86 L927.36,930.36 L927.72,929.05 L928.27,927.09 L931.91,913.97 L932.82,911.89 L938.29,899.40 L940.47,916.89 L941.02,921.26 L942.84,908.14 L945.57,888.47 L947.40,893.93 L949.22,899.40 L950.13,890.75 L952.86,864.79 L953.77,863.88 L956.14,861.51 L956.50,861.15 L960.15,855.68 L961.06,859.78 L963.79,872.08 L964.70,869.80 L969.25,858.42 L971.07,867.07 L972.90,875.72 L976.54,869.65 L978.36,866.61 L980.18,860.24 L982.00,853.86 L984.74,854.77 L985.65,855.08 L987.47,855.68 L989.29,848.40 L992.02,875.72 L992.93,884.83 L994.75,883.61 L996.58,882.40 L998.40,881.18 L1000.22,880.82 L1002.04,880.46 L1003.86,880.09 L1007.50,879.36 L1011.15,879.00 L1016.61,878.45 L1018.43,878.45 L1025.72,878.45 L1030.27,893.93 L1031.18,888.24 L1033.92,871.17 L1037.56,895.76 L1038.47,893.93 L1042.11,886.65 L1045.76,881.64 L1047.58,879.13 L1049.40,876.63 L1051.22,897.58 L1054.50,865.96 L1054.86,862.45 L1056.32,848.40 L1056.68,849.56 L1060.33,861.15 L1063.06,868.43 L1064.88,880.58 L1065.79,886.65 L1067.61,883.01 L1069.44,879.36 L1071.26,875.72 L1073.08,875.31 L1079.30,873.90 L1079.30,975.17 L1076.30,1072.30 L86.90,1072.30Z" fill="#C00000"/>
<path d="M83.90,1074.30 L83.90,964.97 L84.01,964.97 L87.29,963.15 L90.93,966.19 L92.75,967.70 L97.30,963.15 L98.21,962.70 L104.59,959.51 L105.50,960.42 L109.14,964.06 L110.05,964.97 L111.88,965.58 L112.42,965.76 L115.52,966.79 L116.43,965.66 L117.34,964.52 L119.16,962.24 L123.72,981.37 L124.63,981.97 L129.18,985.01 L131.91,988.42 L132.82,989.56 L136.47,983.19 L138.29,982.28 L140.11,981.37 L141.93,982.82 L143.75,984.28 L144.66,985.01 L149.22,977.72 L152.86,974.08 L153.77,957.69 L154.68,964.97 L155.59,972.26 L156.50,970.13 L158.32,965.88 L160.15,963.15 L162.88,959.51 L164.70,990.47 L165.61,982.58 L166.70,973.11 L167.43,966.79 L168.89,970.68 L170.16,974.08 L171.99,988.65 L172.90,995.94 L173.81,992.30 L174.72,988.65 L178.36,988.65 L179.27,987.74 L182.91,984.10 L183.83,984.10 L189.29,984.10 L194.75,985.01 L199.31,991.84 L200.22,993.21 L203.86,995.03 L205.68,995.94 L207.50,999.58 L210.24,1005.05 L211.15,1006.87 L214.79,1002.01 L216.61,999.58 L218.43,1000.19 L220.26,1000.80 L222.08,1001.40 L223.90,1001.40 L227.54,1001.40 L229.36,1005.96 L230.27,1008.23 L231.18,1010.51 L232.09,1012.03 L233.92,1015.06 L238.47,1012.46 L240.29,1011.42 L243.93,1009.60 L245.76,1008.69 L248.49,1012.79 L249.40,1014.15 L250.31,1014.61 L254.86,1016.89 L256.68,1014.70 L259.42,1011.42 L260.33,1002.62 L262.15,985.01 L263.06,978.33 L263.97,971.65 L264.88,964.97 L265.79,968.16 L268.52,977.72 L269.44,976.27 L273.08,970.44 L274.90,969.72 L276.72,969.00 L280.00,967.70 L285.46,964.06 L287.29,966.19 L289.11,968.31 L290.93,970.44 L294.57,967.70 L298.21,964.97 L303.68,970.44 L305.50,972.26 L309.14,985.01 L312.79,982.58 L314.61,981.37 L316.43,982.82 L318.25,984.28 L323.72,988.65 L325.54,987.74 L329.18,985.92 L331.00,985.01 L336.47,985.69 L338.29,985.92 L341.93,990.47 L343.75,985.01 L345.57,979.54 L347.40,974.08 L349.22,977.72 L350.13,979.54 L351.04,959.51 L351.95,939.47 L352.86,958.60 L353.77,977.72 L354.68,979.28 L360.15,988.65 L365.61,979.54 L371.07,975.90 L376.54,974.08 L378.36,961.33 L379.27,970.44 L381.09,988.65 L382.00,989.93 L385.65,995.03 L387.47,995.71 L392.93,997.76 L393.84,997.08 L400.22,992.30 L402.04,992.30 L407.50,992.30 L409.33,991.69 L411.15,991.08 L412.97,990.47 L414.79,981.37 L416.61,979.91 L419.34,977.72 L420.26,980.46 L424.81,994.12 L425.36,991.66 L425.72,990.02 L428.45,977.72 L429.36,976.51 L431.18,974.08 L433.01,977.72 L436.65,985.01 L440.29,987.74 L442.11,989.11 L443.93,990.47 L447.58,988.65 L449.40,987.74 L451.22,986.83 L454.86,988.65 L458.51,990.47 L460.33,990.02 L465.79,988.65 L473.08,986.83 L477.63,984.10 L480.00,989.56 L487.29,985.92 L489.11,986.38 L494.57,987.74 L498.21,990.02 L501.86,992.30 L507.32,981.37 L512.79,973.17 L514.61,970.44 L516.43,969.07 L520.07,966.34 L521.89,964.97 L523.72,966.53 L525.54,968.10 L528.27,970.44 L529.18,971.48 L532.82,975.64 L534.64,977.72 L535.56,965.88 L536.47,954.04 L538.29,974.99 L540.11,975.29 L543.75,975.90 L547.40,971.04 L549.22,968.62 L551.95,976.81 L552.86,979.54 L556.50,972.26 L560.15,970.89 L561.97,970.21 L563.79,969.53 L569.25,962.24 L574.72,964.97 L576.54,965.88 L580.18,967.70 L583.83,962.24 L588.38,978.18 L589.29,981.37 L591.11,989.56 L592.93,997.76 L596.58,1000.19 L598.40,1001.40 L602.04,999.58 L603.86,998.67 L605.68,999.58 L609.33,1001.40 L611.15,1000.88 L614.79,999.84 L615.70,999.58 L618.43,990.47 L625.72,984.64 L627.54,983.19 L629.36,983.42 L633.01,983.87 L634.83,984.10 L636.65,973.75 L638.47,963.40 L638.83,961.33 L642.11,975.90 L643.93,975.60 L645.76,975.29 L647.58,974.99 L649.40,973.17 L650.31,972.26 L652.13,1003.22 L653.04,1016.89 L653.95,1030.55 L656.32,1021.07 L656.68,1019.62 L659.42,1010.51 L660.33,1014.15 L662.15,1021.44 L663.97,988.65 L664.88,991.69 L666.70,997.76 L667.61,995.57 L669.44,991.20 L671.26,986.83 L673.08,989.02 L674.90,991.20 L675.81,992.30 L676.72,995.66 L680.00,1007.78 L687.29,1003.22 L692.75,999.13 L694.57,997.76 L696.39,1003.68 L698.21,1009.60 L700.04,1012.79 L701.86,1015.97 L703.68,1014.61 L705.50,1013.24 L707.32,1014.15 L709.14,1015.06 L712.79,1016.89 L713.70,1018.48 L714.61,1020.07 L716.43,1023.26 L720.07,1031.76 L721.89,1036.01 L722.81,1035.10 L727.36,1030.55 L729.18,1031.07 L732.82,1032.11 L733.73,1032.37 L736.10,1010.27 L736.47,1006.87 L737.38,1014.15 L739.20,1028.72 L740.11,1027.63 L741.02,1026.54 L743.75,1023.26 L745.57,1023.26 L747.40,1023.26 L749.22,1023.26 L751.04,1023.26 L752.86,1021.44 L756.50,1017.80 L758.32,1015.97 L763.79,1014.61 L765.61,1014.15 L769.25,1013.24 L772.90,1014.61 L776.54,1015.97 L780.18,1016.89 L782.00,1017.34 L783.83,1017.80 L787.47,1023.26 L789.29,1022.53 L796.58,1019.62 L800.22,1026.90 L802.04,1027.36 L807.50,1028.72 L809.33,1011.72 L809.69,1008.32 L810.24,1003.22 L811.51,954.04 L812.06,964.06 L814.79,1014.15 L816.61,1023.26 L818.43,978.33 L819.34,955.87 L820.62,976.27 L822.08,999.58 L823.90,1001.40 L825.72,1003.22 L828.45,1014.15 L831.18,1008.69 L833.01,1005.05 L838.47,1003.68 L840.29,1003.22 L843.93,1002.50 L849.40,1001.40 L853.04,985.01 L854.86,979.09 L856.68,973.17 L860.33,981.37 L862.15,982.58 L865.79,985.01 L867.61,984.40 L871.26,983.19 L873.08,983.57 L880.00,985.01 L887.29,977.72 L891.84,983.79 L892.75,985.01 L896.39,1003.22 L896.76,1005.05 L898.21,990.47 L899.13,981.37 L900.40,913.79 L900.95,884.83 L901.86,916.70 L902.77,948.58 L905.50,986.83 L906.41,999.58 L909.14,990.47 L910.05,986.83 L912.42,977.36 L912.79,975.90 L913.70,974.99 L918.25,970.44 L920.98,961.33 L923.72,968.62 L927.36,940.47 L927.72,937.65 L928.27,939.99 L931.91,955.60 L932.82,959.51 L938.29,974.08 L940.47,947.85 L941.02,941.29 L942.84,963.15 L945.57,968.62 L947.40,972.26 L949.22,968.62 L950.13,966.79 L952.86,1005.05 L953.77,1001.40 L956.14,991.93 L956.50,990.47 L960.15,994.12 L961.06,992.30 L963.79,986.83 L964.70,985.01 L969.25,997.76 L971.07,985.92 L972.90,974.08 L976.54,979.54 L978.36,982.58 L980.18,985.62 L982.00,988.65 L984.74,983.19 L985.65,981.37 L987.47,988.65 L989.29,995.94 L992.02,961.33 L992.93,961.33 L994.75,961.33 L996.58,961.33 L998.40,964.06 L1000.22,966.79 L1002.04,964.52 L1003.86,962.24 L1007.50,962.24 L1011.15,962.24 L1016.61,962.24 L1018.43,962.24 L1025.72,963.15 L1030.27,946.76 L1031.18,953.13 L1033.92,972.26 L1037.56,950.40 L1038.47,951.86 L1042.11,957.69 L1045.76,963.76 L1047.58,966.79 L1049.40,954.95 L1051.22,943.11 L1054.50,994.12 L1054.86,994.42 L1056.32,995.63 L1056.68,995.94 L1060.33,986.83 L1063.06,971.53 L1064.88,961.33 L1065.79,961.69 L1067.61,962.42 L1069.44,963.15 L1071.26,967.70 L1073.08,972.26 L1079.30,973.17 L1079.30,1074.30Z" fill="#009600"/>
<line x1="62.90" y1="637.90" x2="1091.60" y2="637.90" stroke="#000" stroke-width="2.0"/>
<line x1="62.90" y1="1086.65" x2="1091.60" y2="1086.65" stroke="#000" stroke-width="2.0"/>
<line x1="64.20" y1="636.90" x2="64.20" y2="1087.65" stroke="#000" stroke-width="2.6"/>
<line x1="1090.30" y1="636.90" x2="1090.30" y2="1087.65" stroke="#000" stroke-width="2.6"/>
<line x1="64.20" y1="713.90" x2="78.00" y2="713.90" stroke="#000" stroke-width="2.0"/>
<line x1="1090.30" y1="713.90" x2="1079.60" y2="713.90" stroke="#000" stroke-width="2.0"/>
<line x1="64.20" y1="788.50" x2="78.00" y2="788.50" stroke="#000" stroke-width="2.0"/>
<line x1="1090.30" y1="788.50" x2="1079.60" y2="788.50" stroke="#000" stroke-width="2.0"/>
<line x1="64.20" y1="863.50" x2="78.00" y2="863.50" stroke="#000" stroke-width="2.0"/>
<line x1="1090.30" y1="863.50" x2="1079.60" y2="863.50" stroke="#000" stroke-width="2.0"/>
<line x1="64.20" y1="936.10" x2="78.00" y2="936.10" stroke="#000" stroke-width="2.0"/>
<line x1="1090.30" y1="936.10" x2="1079.60" y2="936.10" stroke="#000" stroke-width="2.0"/>
<line x1="64.20" y1="1011.40" x2="78.00" y2="1011.40" stroke="#000" stroke-width="2.0"/>
<line x1="1090.30" y1="1011.40" x2="1079.60" y2="1011.40" stroke="#000" stroke-width="2.0"/>
<line x1="337.20" y1="1086.65" x2="337.20" y2="1079.85" stroke="#000" stroke-width="2.6"/>
<line x1="337.20" y1="637.90" x2="337.20" y2="645.20" stroke="#000" stroke-width="2.6"/>
<line x1="589.00" y1="1086.65" x2="589.00" y2="1079.85" stroke="#000" stroke-width="2.6"/>
<line x1="589.00" y1="637.90" x2="589.00" y2="645.20" stroke="#000" stroke-width="2.6"/>
<line x1="864.30" y1="1086.65" x2="864.30" y2="1079.85" stroke="#000" stroke-width="2.6"/>
<line x1="864.30" y1="637.90" x2="864.30" y2="645.20" stroke="#000" stroke-width="2.6"/>
<rect x="339.5" y="1141.4" width="534.0" height="32.1" fill="none" stroke="#222" stroke-width="1.6"/>
<rect x="400.8" y="1153.6" width="13.0" height="8.2" fill="#000"/>
<rect x="549.0" y="1153.6" width="12.5" height="8.2" fill="#C00000"/>
<rect x="741.8" y="1153.6" width="13.0" height="8.2" fill="#009600"/>
<path d="M88.05,1398.47 L88.05,1364.59 L88.28,1364.59 L91.38,1365.50 L93.20,1356.39 L94.11,1355.03 L96.84,1350.93 L97.75,1351.84 L99.57,1353.66 L101.39,1355.03 L103.21,1356.39 L108.68,1358.21 L114.14,1360.40 L115.97,1360.70 L117.42,1360.95 L118.70,1373.70 L121.43,1376.43 L123.25,1378.25 L128.72,1377.34 L130.54,1377.64 L134.18,1378.25 L137.82,1377.64 L139.64,1377.34 L145.11,1380.07 L147.84,1378.25 L152.40,1378.55 L153.31,1378.62 L156.04,1393.73 L163.32,1394.64 L170.61,1395.56 L172.43,1407.09 L173.34,1412.86 L177.90,1411.95 L179.72,1411.49 L185.18,1410.13 L187.00,1409.76 L189.74,1409.22 L192.47,1413.77 L194.29,1413.77 L197.93,1413.77 L199.75,1416.05 L201.58,1418.32 L203.40,1416.28 L205.22,1414.23 L208.86,1410.13 L212.50,1411.49 L216.15,1412.86 L219.79,1402.84 L220.70,1403.15 L221.61,1403.45 L225.26,1404.66 L227.08,1406.48 L228.90,1408.31 L230.72,1407.70 L234.36,1406.48 L239.83,1404.66 L245.29,1422.88 L250.76,1425.61 L252.58,1426.52 L256.22,1428.34 L258.04,1427.74 L261.68,1426.52 L263.51,1428.34 L265.33,1430.16 L270.79,1430.16 L271.70,1430.16 L274.44,1426.52 L276.26,1426.52 L279.90,1426.52 L281.72,1428.80 L285.00,1432.90 L287.73,1432.90 L288.64,1441.09 L289.55,1449.29 L294.11,1455.66 L299.57,1456.58 L301.39,1456.35 L303.21,1456.12 L306.86,1455.66 L308.68,1455.44 L312.32,1454.98 L314.14,1454.75 L317.79,1456.58 L321.43,1453.45 L323.25,1451.89 L324.16,1451.11 L326.89,1452.75 L328.72,1453.84 L330.54,1454.21 L332.36,1454.57 L333.27,1454.75 L336.00,1465.68 L339.64,1464.47 L341.47,1463.86 L343.29,1465.68 L345.11,1467.50 L347.84,1463.86 L348.75,1464.23 L352.40,1465.68 L354.22,1462.04 L357.86,1454.75 L358.77,1455.21 L361.50,1456.58 L365.15,1460.22 L366.97,1459.91 L370.61,1459.31 L373.34,1452.93 L374.25,1449.65 L376.07,1443.10 L377.90,1436.54 L383.36,1431.07 L385.18,1428.95 L388.83,1424.70 L392.47,1421.97 L394.29,1421.66 L397.93,1421.06 L399.75,1421.97 L401.58,1422.88 L403.40,1421.51 L405.22,1420.15 L408.86,1413.77 L412.50,1411.95 L414.33,1411.04 L416.15,1410.73 L419.79,1410.13 L421.61,1407.40 L423.43,1404.66 L430.72,1403.75 L438.01,1402.84 L439.83,1403.07 L445.29,1403.75 L448.93,1402.54 L450.76,1401.93 L452.58,1402.54 L456.22,1403.75 L458.04,1404.06 L459.86,1404.36 L461.68,1404.66 L465.33,1399.20 L467.15,1398.89 L470.79,1398.29 L476.26,1401.02 L478.08,1401.93 L485.00,1411.04 L492.29,1411.95 L494.11,1412.56 L497.75,1413.77 L499.57,1414.23 L503.21,1415.14 L505.04,1415.59 L507.77,1426.52 L508.68,1426.91 L514.14,1429.25 L521.43,1433.81 L528.72,1435.63 L534.18,1438.36 L536.00,1439.27 L539.64,1441.09 L542.38,1434.72 L548.75,1435.63 L557.86,1431.99 L559.68,1439.27 L563.32,1434.72 L568.79,1435.63 L570.61,1432.59 L571.52,1431.07 L576.07,1432.09 L579.72,1432.90 L587.00,1433.81 L588.83,1396.47 L589.74,1396.16 L594.29,1394.64 L597.93,1393.73 L600.66,1400.11 L601.58,1400.24 L603.40,1400.50 L607.04,1401.02 L608.86,1402.23 L612.50,1404.66 L616.15,1404.66 L619.79,1404.66 L621.61,1408.76 L623.43,1412.86 L630.72,1411.95 L634.36,1409.22 L636.18,1403.75 L639.83,1404.66 L642.56,1412.86 L648.93,1413.77 L652.58,1416.50 L654.40,1421.06 L656.22,1425.61 L658.04,1426.52 L661.68,1428.34 L663.51,1426.98 L665.33,1425.61 L667.15,1426.52 L670.79,1428.34 L674.44,1428.34 L675.35,1428.34 L676.26,1440.18 L677.17,1452.02 L679.90,1453.84 L685.00,1456.58 L690.46,1457.26 L692.29,1457.49 L694.11,1456.12 L695.93,1454.75 L699.57,1455.66 L701.39,1457.03 L703.21,1458.40 L706.86,1461.13 L708.68,1467.50 L709.59,1467.81 L712.32,1468.72 L714.14,1469.33 L715.97,1470.24 L721.43,1472.97 L723.25,1473.52 L730.54,1475.70 L739.64,1474.79 L745.11,1472.97 L746.93,1470.44 L748.39,1468.42 L748.75,1470.69 L750.57,1482.08 L757.86,1485.72 L761.50,1481.17 L766.97,1480.48 L768.79,1480.26 L774.25,1484.81 L776.07,1485.17 L778.81,1485.72 L781.54,1493.92 L785.18,1494.83 L788.83,1495.74 L792.47,1479.34 L793.38,1479.46 L794.29,1479.57 L799.75,1480.26 L803.40,1490.27 L804.31,1490.53 L809.77,1492.09 L810.68,1493.92 L812.50,1497.56 L819.79,1496.65 L821.61,1495.13 L823.43,1493.61 L825.26,1492.09 L830.72,1488.45 L834.36,1491.18 L836.18,1493.46 L838.01,1495.74 L839.83,1492.82 L841.65,1489.91 L842.56,1488.45 L844.38,1492.09 L847.11,1497.56 L848.93,1496.88 L854.40,1494.83 L858.04,1493.61 L859.86,1493.01 L861.68,1492.55 L867.15,1491.18 L874.44,1488.45 L876.26,1487.84 L879.90,1486.63 L885.00,1487.54 L890.46,1486.63 L894.11,1486.02 L895.93,1485.72 L901.39,1482.99 L903.21,1484.35 L905.04,1485.72 L908.68,1490.27 L915.05,1489.36 L916.88,1488.45 L917.79,1469.59 L918.15,1462.04 L920.52,1466.59 L921.43,1466.44 L925.98,1465.68 L926.89,1456.58 L927.81,1447.47 L928.35,1435.37 L929.08,1419.23 L930.54,1421.48 L931.45,1422.88 L936.00,1422.88 L936.91,1422.88 L939.64,1383.72 L943.29,1380.98 L946.93,1380.71 L948.75,1380.57 L950.57,1380.44 L952.40,1377.52 L954.22,1374.61 L957.86,1375.52 L959.68,1380.07 L963.32,1376.43 L970.61,1374.61 L974.25,1378.25 L979.72,1379.16 L983.36,1383.72 L985.18,1384.02 L988.83,1384.63 L989.74,1385.93 L994.29,1392.46 L999.75,1392.82 L1001.58,1392.22 L1003.40,1391.61 L1005.22,1391.00 L1008.86,1390.55 L1012.50,1390.09 L1016.15,1386.45 L1021.61,1385.77 L1023.43,1385.54 L1030.72,1383.72 L1038.01,1383.72 L1041.65,1382.55 L1042.56,1382.26 L1045.29,1391.55 L1046.20,1394.64 L1052.58,1392.82 L1055.31,1387.36 L1058.04,1386.81 L1059.86,1386.45 L1067.15,1385.54 L1068.06,1383.72 L1068.50,1383.72 L1068.50,1418.50 L1065.50,1673.70 L91.05,1673.70Z" fill="#000"/>
<path d="M88.05,1645.28 L88.05,1396.47 L88.28,1396.47 L91.38,1397.38 L93.20,1390.70 L94.11,1387.36 L96.84,1385.31 L97.75,1384.63 L99.57,1385.99 L101.39,1387.36 L103.21,1388.27 L108.68,1391.00 L114.14,1392.82 L115.97,1393.33 L117.42,1393.73 L118.70,1404.66 L121.43,1407.40 L123.25,1409.22 L128.72,1408.53 L130.54,1408.31 L134.18,1408.94 L137.82,1409.58 L139.64,1409.72 L145.11,1410.13 L147.84,1409.65 L152.40,1408.85 L153.31,1411.68 L156.04,1420.15 L163.32,1421.97 L170.61,1422.88 L172.43,1434.41 L173.34,1440.18 L177.90,1439.53 L179.72,1439.27 L185.18,1437.91 L187.00,1437.45 L189.74,1439.27 L192.47,1441.09 L194.29,1442.00 L197.93,1443.83 L199.75,1444.74 L201.58,1444.13 L203.40,1443.52 L205.22,1442.91 L208.86,1442.00 L212.50,1441.09 L216.15,1441.09 L219.79,1434.54 L220.70,1432.90 L221.61,1433.68 L225.26,1436.80 L227.08,1438.36 L228.90,1438.13 L230.72,1437.91 L234.36,1437.45 L239.83,1435.63 L245.29,1451.11 L250.76,1453.16 L252.58,1453.84 L256.22,1454.45 L258.04,1454.75 L261.68,1455.97 L263.51,1456.58 L265.33,1456.80 L270.79,1457.49 L271.70,1457.03 L274.44,1455.66 L276.26,1454.75 L279.90,1454.75 L281.72,1454.75 L285.00,1461.13 L287.73,1461.13 L288.64,1468.87 L289.55,1476.61 L294.11,1481.17 L299.57,1481.85 L301.39,1482.08 L303.21,1481.85 L306.86,1481.39 L308.68,1481.17 L312.32,1481.17 L314.14,1481.17 L317.79,1481.17 L321.43,1480.56 L323.25,1480.26 L324.16,1479.34 L326.89,1476.61 L328.72,1477.52 L330.54,1478.43 L332.36,1479.34 L333.27,1481.39 L336.00,1487.54 L339.64,1488.00 L341.47,1488.22 L343.29,1488.45 L345.11,1488.15 L347.84,1487.69 L348.75,1487.54 L352.40,1485.11 L354.22,1483.90 L357.86,1480.98 L358.77,1480.26 L361.50,1482.08 L365.15,1484.81 L366.97,1484.20 L370.61,1482.99 L373.34,1476.84 L374.25,1474.79 L376.07,1469.33 L377.90,1463.86 L383.36,1460.22 L385.18,1458.09 L388.83,1453.84 L392.47,1451.41 L394.29,1450.20 L397.93,1449.59 L399.75,1449.29 L401.58,1448.99 L403.40,1448.68 L405.22,1448.38 L408.86,1443.83 L412.50,1442.46 L414.33,1441.78 L416.15,1441.09 L419.79,1438.82 L421.61,1437.68 L423.43,1436.54 L430.72,1434.72 L438.01,1433.26 L439.83,1432.90 L445.29,1433.81 L448.93,1433.53 L450.76,1433.40 L452.58,1433.26 L456.22,1434.44 L458.04,1435.04 L459.86,1435.63 L461.68,1434.11 L465.33,1431.07 L467.15,1431.07 L470.79,1431.07 L476.26,1432.44 L478.08,1432.90 L485.00,1442.00 L492.29,1442.91 L494.11,1443.37 L497.75,1444.28 L499.57,1444.74 L503.21,1445.34 L505.04,1445.65 L507.77,1454.75 L508.68,1455.01 L514.14,1456.58 L521.43,1460.22 L528.72,1462.04 L534.18,1464.77 L536.00,1465.68 L539.64,1467.50 L542.38,1462.95 L548.75,1463.86 L557.86,1461.13 L559.68,1467.50 L563.32,1463.86 L568.79,1461.13 L570.61,1460.22 L571.52,1460.31 L576.07,1460.77 L579.72,1461.13 L587.00,1461.13 L588.83,1429.25 L589.74,1428.95 L594.29,1427.43 L597.93,1427.07 L600.66,1431.44 L601.58,1432.90 L603.40,1432.90 L607.04,1432.90 L608.86,1432.90 L612.50,1434.26 L616.15,1435.63 L619.79,1436.24 L621.61,1436.54 L623.43,1443.83 L630.72,1443.83 L634.36,1440.18 L636.18,1438.36 L639.83,1438.36 L642.56,1444.74 L648.93,1446.56 L652.58,1448.38 L654.40,1449.29 L656.22,1452.93 L658.04,1456.58 L661.68,1457.18 L663.51,1457.49 L665.33,1457.03 L667.15,1456.58 L670.79,1457.49 L674.44,1458.40 L675.35,1468.42 L676.26,1478.43 L677.17,1478.89 L679.90,1480.26 L685.00,1482.99 L690.46,1484.81 L692.29,1483.90 L694.11,1482.99 L695.93,1482.08 L699.57,1483.90 L701.39,1484.81 L703.21,1485.72 L706.86,1487.54 L708.68,1491.18 L709.59,1493.01 L712.32,1493.79 L714.14,1494.31 L715.97,1494.83 L721.43,1496.88 L723.25,1497.56 L730.54,1498.47 L739.64,1496.65 L745.11,1496.65 L746.93,1496.65 L748.39,1492.09 L748.75,1494.37 L750.57,1505.76 L757.86,1507.58 L761.50,1503.02 L766.97,1503.02 L768.79,1503.02 L774.25,1505.76 L776.07,1505.76 L778.81,1505.76 L781.54,1513.04 L785.18,1513.95 L788.83,1514.86 L792.47,1503.21 L793.38,1500.29 L794.29,1500.55 L799.75,1502.11 L803.40,1508.67 L804.31,1510.31 L809.77,1511.87 L810.68,1512.13 L812.50,1516.68 L819.79,1515.77 L821.61,1513.50 L823.43,1511.22 L825.26,1510.99 L830.72,1510.31 L834.36,1513.35 L836.18,1514.86 L838.01,1514.56 L839.83,1514.26 L841.65,1513.95 L842.56,1512.13 L844.38,1508.49 L847.11,1515.77 L848.93,1515.32 L854.40,1513.95 L858.04,1513.04 L859.86,1512.59 L861.68,1512.13 L867.15,1510.31 L874.44,1508.49 L876.26,1507.88 L879.90,1506.67 L885.00,1506.67 L890.46,1505.76 L894.11,1505.15 L895.93,1504.85 L901.39,1503.02 L903.21,1503.93 L905.04,1504.85 L908.68,1507.58 L915.05,1508.49 L916.88,1489.36 L917.79,1489.18 L918.15,1489.11 L920.52,1488.63 L921.43,1488.45 L925.98,1487.69 L926.89,1487.54 L927.81,1462.50 L928.35,1447.47 L929.08,1447.77 L930.54,1448.38 L931.45,1448.51 L936.00,1449.16 L936.91,1449.29 L939.64,1414.68 L943.29,1413.77 L946.93,1412.86 L948.75,1411.34 L950.57,1409.82 L952.40,1408.31 L954.22,1408.00 L957.86,1407.40 L959.68,1412.86 L963.32,1409.22 L970.61,1408.31 L974.25,1411.95 L979.72,1412.86 L983.36,1416.50 L985.18,1416.76 L988.83,1417.28 L989.74,1417.41 L994.29,1423.79 L999.75,1423.11 L1001.58,1422.88 L1003.40,1422.65 L1005.22,1422.42 L1008.86,1421.97 L1012.50,1420.15 L1016.15,1418.32 L1021.61,1417.64 L1023.43,1417.41 L1030.72,1415.59 L1038.01,1414.68 L1041.65,1414.68 L1042.56,1414.68 L1045.29,1421.51 L1046.20,1423.79 L1052.58,1421.97 L1055.31,1419.23 L1058.04,1418.14 L1059.86,1417.41 L1067.15,1416.60 L1068.06,1416.50 L1068.50,1416.50 L1068.50,1647.10 L1065.50,1673.70 L91.05,1673.70Z" fill="#C00000"/>
<path d="M88.05,1675.70 L88.05,1643.28 L88.28,1643.28 L91.38,1642.31 L93.20,1641.74 L94.11,1641.46 L96.84,1641.46 L97.75,1641.46 L99.57,1641.46 L101.39,1641.46 L103.21,1641.59 L108.68,1642.00 L114.14,1642.28 L115.97,1642.37 L117.42,1642.85 L118.70,1643.28 L121.43,1644.19 L123.25,1644.12 L128.72,1643.90 L130.54,1643.83 L134.18,1644.12 L137.82,1644.41 L139.64,1644.55 L145.11,1644.55 L147.84,1644.55 L152.40,1644.55 L153.31,1645.37 L156.04,1647.83 L163.32,1647.83 L170.61,1648.56 L172.43,1648.74 L173.34,1648.63 L177.90,1648.06 L179.72,1647.83 L185.18,1647.83 L187.00,1647.83 L189.74,1647.70 L192.47,1647.56 L194.29,1647.47 L197.93,1647.76 L199.75,1647.91 L201.58,1648.05 L203.40,1648.20 L205.22,1648.05 L208.86,1647.76 L212.50,1647.47 L216.15,1647.10 L219.79,1646.74 L220.70,1646.65 L221.61,1646.56 L225.26,1646.19 L227.08,1646.01 L228.90,1645.83 L230.72,1645.65 L234.36,1645.65 L239.83,1645.65 L245.29,1646.92 L250.76,1647.60 L252.58,1647.83 L256.22,1647.95 L258.04,1648.01 L261.68,1648.14 L263.51,1648.20 L265.33,1648.20 L270.79,1648.20 L271.70,1647.88 L274.44,1646.92 L276.26,1647.02 L279.90,1647.20 L281.72,1647.30 L285.00,1647.47 L287.73,1647.74 L288.64,1647.83 L289.55,1648.14 L294.11,1649.65 L299.57,1649.65 L301.39,1649.65 L303.21,1649.65 L306.86,1649.80 L308.68,1649.87 L312.32,1650.02 L314.14,1650.02 L317.79,1650.02 L321.43,1650.02 L323.25,1650.24 L324.16,1650.35 L326.89,1650.67 L328.72,1650.89 L330.54,1651.11 L332.36,1651.18 L333.27,1651.22 L336.00,1651.33 L339.64,1651.48 L341.47,1651.48 L343.29,1651.48 L345.11,1651.48 L347.84,1651.48 L348.75,1651.48 L352.40,1651.33 L354.22,1651.26 L357.86,1651.11 L358.77,1651.06 L361.50,1650.89 L365.15,1650.67 L366.97,1650.56 L370.61,1649.84 L373.34,1649.29 L374.25,1649.11 L376.07,1648.74 L377.90,1648.56 L383.36,1648.01 L385.18,1647.83 L388.83,1647.83 L392.47,1647.83 L394.29,1647.83 L397.93,1647.69 L399.75,1647.61 L401.58,1647.54 L403.40,1647.47 L405.22,1647.25 L408.86,1646.81 L412.50,1646.38 L414.33,1646.30 L416.15,1646.23 L419.79,1646.08 L421.61,1646.01 L423.43,1645.83 L430.72,1645.10 L438.01,1645.10 L439.83,1645.10 L445.29,1644.77 L448.93,1644.55 L450.76,1644.48 L452.58,1644.41 L456.22,1644.26 L458.04,1644.19 L459.86,1644.12 L461.68,1644.04 L465.33,1643.90 L467.15,1643.83 L470.79,1643.97 L476.26,1644.19 L478.08,1644.57 L485.00,1646.01 L492.29,1646.01 L494.11,1646.01 L497.75,1646.01 L499.57,1646.01 L503.21,1646.01 L505.04,1646.62 L507.77,1647.53 L508.68,1647.83 L514.14,1647.99 L521.43,1648.20 L528.72,1648.47 L534.18,1648.67 L536.00,1648.74 L539.64,1648.48 L542.38,1648.29 L548.75,1647.83 L557.86,1647.26 L559.68,1647.15 L563.32,1646.92 L568.79,1647.16 L570.61,1647.23 L571.52,1647.27 L576.07,1647.47 L579.72,1647.59 L587.00,1647.83 L588.83,1645.16 L589.74,1643.83 L594.29,1642.73 L597.93,1643.17 L600.66,1643.50 L601.58,1643.61 L603.40,1643.83 L607.04,1643.97 L608.86,1644.04 L612.50,1644.19 L616.15,1644.04 L619.79,1643.90 L621.61,1643.83 L623.43,1643.83 L630.72,1643.83 L634.36,1643.10 L636.18,1642.73 L639.83,1643.04 L642.56,1643.28 L648.93,1643.83 L652.58,1644.12 L654.40,1644.26 L656.22,1644.41 L658.04,1644.55 L661.68,1644.55 L663.51,1644.55 L665.33,1644.55 L667.15,1644.55 L670.79,1645.28 L674.44,1646.01 L675.35,1646.92 L676.26,1647.83 L677.17,1648.74 L679.90,1648.93 L685.00,1649.29 L690.46,1649.51 L692.29,1649.58 L694.11,1649.65 L695.93,1649.65 L699.57,1649.65 L701.39,1649.65 L703.21,1649.65 L706.86,1650.02 L708.68,1650.20 L709.59,1650.29 L712.32,1650.56 L714.14,1650.67 L715.97,1650.78 L721.43,1651.11 L723.25,1651.26 L730.54,1651.84 L739.64,1652.39 L745.11,1652.06 L746.93,1651.95 L748.39,1651.86 L748.75,1651.84 L750.57,1652.06 L757.86,1652.93 L761.50,1653.08 L766.97,1653.30 L768.79,1653.48 L774.25,1654.03 L776.07,1654.21 L778.81,1654.26 L781.54,1654.32 L785.18,1654.39 L788.83,1654.10 L792.47,1653.81 L793.38,1653.73 L794.29,1653.66 L799.75,1654.32 L803.40,1654.75 L804.31,1654.83 L809.77,1655.26 L810.68,1655.34 L812.50,1655.48 L819.79,1655.48 L821.61,1655.48 L823.43,1655.41 L825.26,1655.34 L830.72,1655.12 L834.36,1655.48 L836.18,1655.66 L838.01,1655.85 L839.83,1656.03 L841.65,1656.14 L842.56,1656.19 L844.38,1656.30 L847.11,1656.47 L848.93,1656.58 L854.40,1656.25 L858.04,1656.03 L859.86,1656.03 L861.68,1656.03 L867.15,1656.03 L874.44,1656.03 L876.26,1656.03 L879.90,1656.03 L885.00,1656.03 L890.46,1656.03 L894.11,1656.03 L895.93,1655.96 L901.39,1655.74 L903.21,1655.66 L905.04,1655.80 L908.68,1656.09 L915.05,1656.58 L916.88,1655.00 L917.79,1654.21 L918.15,1654.18 L920.52,1654.03 L921.43,1653.96 L925.98,1653.66 L926.89,1651.28 L927.81,1648.90 L928.35,1647.47 L929.08,1647.54 L930.54,1647.68 L931.45,1647.76 L936.00,1648.20 L936.91,1647.10 L939.64,1643.83 L943.29,1643.61 L946.93,1643.39 L948.75,1643.28 L950.57,1643.39 L952.40,1643.50 L954.22,1643.61 L957.86,1643.83 L959.68,1643.75 L963.32,1643.59 L970.61,1643.28 L974.25,1643.42 L979.72,1643.62 L983.36,1643.76 L985.18,1643.83 L988.83,1644.12 L989.74,1644.19 L994.29,1644.55 L999.75,1644.34 L1001.58,1644.26 L1003.40,1644.19 L1005.22,1644.19 L1008.86,1644.19 L1012.50,1644.19 L1016.15,1644.04 L1021.61,1643.83 L1023.43,1643.83 L1030.72,1643.83 L1038.01,1644.07 L1041.65,1644.19 L1042.56,1644.42 L1045.29,1645.10 L1046.20,1645.10 L1052.58,1645.10 L1055.31,1645.10 L1058.04,1645.10 L1059.86,1645.10 L1067.15,1645.10 L1068.06,1645.10 L1068.50,1645.10 L1068.50,1675.70Z" fill="#009600"/>
<line x1="66.90" y1="1235.50" x2="1091.20" y2="1235.50" stroke="#000" stroke-width="2.0"/>
<line x1="66.90" y1="1682.80" x2="1091.20" y2="1682.80" stroke="#000" stroke-width="2.0"/>
<line x1="68.20" y1="1234.50" x2="68.20" y2="1683.80" stroke="#000" stroke-width="2.6"/>
<line x1="1089.90" y1="1234.50" x2="1089.90" y2="1683.80" stroke="#000" stroke-width="2.6"/>
<line x1="68.20" y1="1303.00" x2="82.00" y2="1303.00" stroke="#000" stroke-width="2.0"/>
<line x1="1089.90" y1="1303.00" x2="1079.20" y2="1303.00" stroke="#000" stroke-width="2.0"/>
<line x1="68.20" y1="1367.80" x2="82.00" y2="1367.80" stroke="#000" stroke-width="2.0"/>
<line x1="1089.90" y1="1367.80" x2="1079.20" y2="1367.80" stroke="#000" stroke-width="2.0"/>
<line x1="68.20" y1="1426.80" x2="82.00" y2="1426.80" stroke="#000" stroke-width="2.0"/>
<line x1="1089.90" y1="1426.80" x2="1079.20" y2="1426.80" stroke="#000" stroke-width="2.0"/>
<line x1="68.20" y1="1490.40" x2="82.00" y2="1490.40" stroke="#000" stroke-width="2.0"/>
<line x1="1089.90" y1="1490.40" x2="1079.20" y2="1490.40" stroke="#000" stroke-width="2.0"/>
<line x1="68.20" y1="1554.50" x2="82.00" y2="1554.50" stroke="#000" stroke-width="2.0"/>
<line x1="1089.90" y1="1554.50" x2="1079.20" y2="1554.50" stroke="#000" stroke-width="2.0"/>
<line x1="68.20" y1="1619.30" x2="82.00" y2="1619.30" stroke="#000" stroke-width="2.0"/>
<line x1="1089.90" y1="1619.30" x2="1079.20" y2="1619.30" stroke="#000" stroke-width="2.0"/>
<line x1="340.60" y1="1682.80" x2="340.60" y2="1676.00" stroke="#000" stroke-width="2.6"/>
<line x1="340.60" y1="1235.50" x2="340.60" y2="1242.80" stroke="#000" stroke-width="2.6"/>
<line x1="591.30" y1="1682.80" x2="591.30" y2="1676.00" stroke="#000" stroke-width="2.6"/>
<line x1="591.30" y1="1235.50" x2="591.30" y2="1242.80" stroke="#000" stroke-width="2.6"/>
<line x1="864.60" y1="1682.80" x2="864.60" y2="1676.00" stroke="#000" stroke-width="2.6"/>
<line x1="864.60" y1="1235.50" x2="864.60" y2="1242.80" stroke="#000" stroke-width="2.6"/>
<rect x="342.0" y="1728.6" width="521.6" height="34.2" fill="none" stroke="#222" stroke-width="1.6"/>
<rect x="400.0" y="1741.8" width="14.0" height="8.2" fill="#000"/>
<rect x="544.4" y="1741.8" width="15.1" height="8.2" fill="#C00000"/>
<rect x="734.8" y="1741.8" width="14.0" height="8.2" fill="#009600"/>
<path d="M89.20,1964.82 L89.20,1928.21 L92.29,1929.13 L94.11,1928.52 L95.93,1927.91 L97.75,1927.30 L101.39,1926.39 L103.21,1925.94 L105.04,1925.48 L106.86,1924.27 L107.77,1923.66 L110.50,1925.22 L114.14,1927.30 L117.79,1932.77 L123.25,1936.41 L128.72,1940.05 L130.54,1941.88 L133.27,1944.61 L134.18,1948.25 L136.00,1955.54 L137.82,1960.09 L139.64,1964.64 L145.11,1965.33 L146.93,1965.56 L152.40,1968.68 L153.31,1969.20 L154.22,1977.85 L155.13,1986.50 L156.04,1986.89 L159.68,1988.45 L161.50,1989.23 L163.32,1989.54 L166.97,1990.15 L168.79,1992.49 L173.34,1998.34 L174.25,2007.45 L175.16,2016.56 L176.07,2016.74 L179.72,2017.47 L181.54,2016.56 L185.18,2014.74 L188.83,2017.16 L190.65,2018.38 L192.47,2017.16 L194.29,2015.95 L196.11,2014.74 L199.75,2015.65 L203.40,2016.56 L205.22,2008.36 L212.50,2004.72 L219.79,2007.45 L225.26,2002.90 L228.90,2000.16 L232.54,2008.36 L238.01,2008.36 L239.83,2008.36 L245.29,2007.68 L247.11,2007.45 L250.76,2010.49 L252.58,2012.00 L256.22,2019.29 L258.04,2016.56 L259.86,2013.83 L263.51,2019.90 L265.33,2022.93 L270.79,2024.75 L276.26,2021.11 L278.08,2020.33 L282.63,2018.38 L285.00,2004.72 L289.55,1991.97 L290.46,1995.61 L293.20,2006.54 L294.11,2008.36 L295.93,2012.00 L299.57,2013.83 L301.39,2014.74 L302.30,2014.89 L303.21,2015.04 L306.86,2015.65 L308.32,1956.45 L308.68,1957.97 L310.50,1965.56 L312.32,1966.47 L315.97,1968.29 L317.79,1969.65 L319.61,1971.02 L321.43,1971.32 L325.07,1971.93 L328.72,1973.75 L330.54,1974.66 L332.36,1974.36 L336.00,1973.75 L339.64,1983.77 L341.47,1982.56 L345.11,1980.13 L346.93,1979.82 L348.75,1979.52 L350.57,1979.22 L352.40,1976.48 L354.22,1973.75 L356.04,1973.52 L357.86,1973.30 L361.50,1972.84 L365.15,1974.66 L366.97,1969.65 L368.79,1964.64 L374.25,1961.91 L376.07,1963.43 L379.72,1966.47 L385.18,1962.82 L390.65,1968.29 L394.29,1972.84 L399.75,1969.20 L401.58,1967.07 L405.22,1962.82 L412.50,1968.29 L419.79,1970.11 L423.43,1978.31 L427.08,1967.38 L430.72,1968.74 L434.36,1970.11 L439.83,1970.79 L441.65,1971.02 L448.93,1972.84 L452.58,1973.75 L454.40,1971.93 L456.22,1970.11 L458.04,1970.41 L459.86,1970.72 L461.68,1971.02 L465.33,1965.56 L467.15,1965.74 L474.44,1966.47 L476.26,1966.24 L481.72,1965.56 L483.54,1955.54 L485.00,1954.63 L490.46,1952.81 L492.29,1952.02 L495.93,1950.44 L499.57,1950.71 L503.21,1950.98 L505.04,1943.70 L508.68,1949.16 L512.32,1950.07 L515.97,1950.98 L521.43,1951.53 L524.16,1943.70 L528.72,1942.79 L530.54,1941.33 L532.36,1939.87 L533.27,1939.14 L536.00,1938.75 L539.64,1938.23 L543.29,1938.23 L546.93,1938.23 L548.75,1937.87 L550.57,1937.50 L551.48,1937.32 L554.22,1943.70 L557.86,1942.33 L561.50,1940.97 L563.32,1940.51 L565.15,1940.05 L568.79,1941.88 L570.61,1942.79 L571.52,1956.45 L572.43,1970.11 L573.34,1970.11 L576.07,1970.11 L577.90,1970.11 L579.72,1971.02 L581.54,1971.93 L583.36,1975.57 L587.00,1974.21 L590.65,1972.84 L594.29,1973.30 L597.93,1973.75 L599.75,2013.83 L602.49,2008.36 L603.40,2007.84 L605.22,2006.80 L608.86,2004.72 L612.50,1999.62 L613.42,1998.34 L619.79,2000.16 L621.61,2000.62 L627.08,2001.99 L630.72,2005.63 L633.45,2021.11 L638.01,2025.66 L639.83,2025.06 L643.47,2023.84 L645.29,2020.81 L646.20,2019.29 L648.93,2020.93 L650.76,2022.02 L654.40,2027.85 L655.31,2029.31 L656.22,2028.76 L659.86,2026.58 L663.51,2024.75 L665.33,2023.84 L667.15,2022.93 L670.79,2021.11 L672.61,2021.34 L678.08,2022.02 L681.72,2023.84 L685.00,2028.40 L687.73,2033.86 L689.55,1991.97 L690.46,1988.48 L691.92,1982.91 L692.65,1980.13 L693.20,1982.71 L695.02,1991.31 L695.93,1995.61 L697.75,1999.25 L699.57,2012.91 L699.94,2015.65 L702.30,2006.54 L703.21,2006.34 L710.50,2004.72 L712.32,1999.86 L713.23,1997.43 L714.14,1997.13 L721.43,1994.70 L723.25,1991.97 L725.07,1993.49 L726.89,1995.00 L728.72,1996.52 L736.00,1997.43 L743.29,1999.25 L746.93,2000.47 L748.75,2001.07 L750.57,2009.27 L752.40,2017.47 L754.22,2017.70 L759.68,2018.38 L761.50,2019.59 L765.15,2022.02 L767.88,2016.56 L770.61,2021.11 L772.43,2027.18 L773.34,2030.22 L777.90,2014.74 L783.36,2014.05 L785.18,2013.83 L787.00,2014.43 L790.65,2015.65 L794.29,2015.65 L799.75,2015.65 L801.58,2016.56 L803.40,2017.47 L808.86,2020.20 L810.68,2020.43 L811.59,2020.54 L816.15,2021.11 L823.43,2023.30 L825.26,2023.84 L830.72,2031.13 L832.54,2039.33 L834.36,2034.47 L838.01,2024.75 L839.83,2024.75 L844.38,2024.75 L845.29,2032.50 L846.20,2040.24 L848.02,2040.60 L848.93,2040.78 L850.76,2041.15 L854.40,2039.69 L855.31,2039.33 L857.13,2028.40 L858.04,2028.50 L860.77,2028.80 L864.42,2029.21 L865.33,2029.31 L867.15,2029.61 L876.26,2031.13 L885.00,2031.13 L890.46,2029.31 L892.29,2028.09 L894.11,2026.88 L895.93,2025.66 L899.57,2025.06 L901.39,2024.75 L903.21,2024.53 L906.86,2024.07 L908.68,2023.84 L910.50,2023.84 L914.14,2023.84 L915.05,2023.39 L917.79,2022.02 L921.43,2026.58 L924.16,2028.40 L925.98,2001.07 L926.89,2002.29 L928.72,2004.72 L930.54,2002.90 L932.36,2001.07 L933.27,2000.16 L935.09,1999.56 L936.00,1999.25 L937.82,1964.64 L939.64,1976.79 L940.56,1982.86 L943.29,1986.50 L945.11,1984.32 L947.84,1981.04 L952.40,1982.86 L954.22,1999.25 L957.86,1997.43 L963.32,1999.25 L965.15,2002.29 L966.06,2003.81 L972.43,2004.52 L974.25,2004.72 L976.07,1991.06 L979.72,1992.88 L985.18,1994.70 L989.74,1992.88 L994.29,1992.88 L996.11,1999.25 L1003.40,1999.25 L1012.50,1998.34 L1017.97,1995.61 L1021.61,1994.40 L1023.43,1993.79 L1027.08,1981.95 L1030.72,1979.52 L1032.54,1978.31 L1039.83,1977.76 L1044.38,1978.31 L1047.11,1981.04 L1048.93,1981.49 L1052.58,1982.40 L1053.49,1982.63 L1054.40,1982.86 L1056.22,1983.32 L1058.04,1983.77 L1059.86,1983.47 L1061.68,1983.16 L1063.51,1982.86 L1067.15,1982.86 L1068.06,1981.95 L1068.50,1981.95 L1068.50,2025.84 L1065.50,2269.80 L92.20,2269.80Z" fill="#000"/>
<path d="M89.20,2243.51 L89.20,1962.82 L92.29,1963.66 L94.11,1964.15 L95.93,1964.64 L97.75,1965.10 L101.39,1966.01 L103.21,1966.47 L105.04,1965.56 L106.86,1964.64 L107.77,1965.10 L110.50,1966.47 L114.14,1968.29 L117.79,1972.84 L123.25,1974.66 L128.72,1976.48 L130.54,1979.82 L133.27,1984.83 L134.18,1986.50 L136.00,1990.15 L137.82,1993.79 L139.64,1997.43 L145.11,1998.80 L146.93,1999.25 L152.40,2003.35 L153.31,2004.03 L154.22,2004.72 L155.13,2012.00 L156.04,2019.29 L159.68,2020.66 L161.50,2021.34 L163.32,2022.02 L166.97,2025.06 L168.79,2026.58 L173.34,2029.61 L174.25,2030.22 L175.16,2035.68 L176.07,2041.15 L179.72,2039.93 L181.54,2039.33 L185.18,2039.78 L188.83,2040.24 L190.65,2040.54 L192.47,2040.84 L194.29,2041.15 L196.11,2039.93 L199.75,2037.50 L203.40,2033.86 L205.22,2032.04 L212.50,2029.31 L219.79,2031.13 L225.26,2028.40 L228.90,2026.58 L232.54,2033.86 L238.01,2034.54 L239.83,2034.77 L245.29,2034.09 L247.11,2033.86 L250.76,2036.29 L252.58,2037.50 L256.22,2042.97 L258.04,2041.15 L259.86,2039.33 L263.51,2047.22 L265.33,2051.17 L270.79,2052.08 L276.26,2048.43 L278.08,2047.39 L282.63,2044.79 L285.00,2037.50 L289.55,2026.58 L290.46,2029.85 L293.20,2039.69 L294.11,2042.97 L295.93,2043.27 L299.57,2043.88 L301.39,2044.34 L302.30,2044.56 L303.21,2044.79 L306.86,2045.70 L308.32,1993.79 L308.68,1993.87 L310.50,1994.29 L312.32,1994.70 L315.97,2000.16 L317.79,2002.90 L319.61,2001.53 L321.43,2000.16 L325.07,2001.53 L328.72,2002.90 L330.54,2003.35 L332.36,2003.81 L336.00,2004.72 L339.64,2007.75 L341.47,2009.27 L345.11,2008.06 L346.93,2007.45 L348.75,2007.15 L350.57,2006.84 L352.40,2006.54 L354.22,2003.81 L356.04,2001.07 L357.86,2000.89 L361.50,2000.53 L365.15,2000.16 L366.97,1995.15 L368.79,1990.15 L374.25,1986.50 L376.07,1987.72 L379.72,1990.15 L385.18,1986.50 L390.65,1992.88 L394.29,1996.52 L399.75,1993.79 L401.58,1991.97 L405.22,1988.32 L412.50,1996.52 L419.79,1998.34 L423.43,1999.25 L427.08,1988.32 L430.72,1989.69 L434.36,1991.06 L439.83,1991.74 L441.65,1991.97 L448.93,1993.79 L452.58,1991.36 L454.40,1990.15 L456.22,1990.75 L458.04,1991.36 L459.86,1991.97 L461.68,1990.75 L465.33,1988.32 L467.15,1988.14 L474.44,1987.41 L476.26,1987.64 L481.72,1988.32 L483.54,1981.04 L485.00,1979.22 L490.46,1977.58 L492.29,1977.03 L495.93,1976.30 L499.57,1975.57 L503.21,1971.93 L505.04,1970.11 L508.68,1972.84 L512.32,1974.21 L515.97,1975.57 L521.43,1974.66 L524.16,1971.02 L528.72,1969.00 L530.54,1968.19 L532.36,1967.38 L533.27,1966.69 L536.00,1964.64 L539.64,1965.37 L543.29,1966.10 L546.93,1965.83 L548.75,1965.69 L550.57,1965.56 L551.48,1966.92 L554.22,1971.02 L557.86,1970.56 L561.50,1970.11 L563.32,1970.79 L565.15,1971.48 L568.79,1972.84 L570.61,1974.66 L571.52,1975.57 L572.43,1987.41 L573.34,1999.25 L576.07,1998.47 L577.90,1997.95 L579.72,1997.43 L581.54,2001.53 L583.36,2005.63 L587.00,2004.72 L590.65,2003.81 L594.29,2004.26 L597.93,2004.72 L599.75,2037.50 L602.49,2034.09 L603.40,2032.95 L605.22,2031.13 L608.86,2027.49 L612.50,2023.84 L613.42,2024.07 L619.79,2025.66 L621.61,2026.12 L627.08,2027.49 L630.72,2030.22 L633.45,2047.52 L638.01,2050.26 L639.83,2049.04 L643.47,2046.61 L645.29,2047.22 L646.20,2047.52 L648.93,2048.43 L650.76,2049.04 L654.40,2050.26 L655.31,2049.80 L656.22,2049.34 L659.86,2047.52 L663.51,2046.61 L665.33,2046.16 L667.15,2045.70 L670.79,2045.70 L672.61,2045.70 L678.08,2043.88 L681.72,2046.61 L685.00,2048.43 L687.73,2053.90 L689.55,2035.68 L690.46,2026.58 L691.92,2020.26 L692.65,2017.10 L693.20,2014.74 L695.02,2021.41 L695.93,2024.75 L697.75,2032.95 L699.57,2041.15 L699.94,2040.51 L702.30,2036.37 L703.21,2034.77 L710.50,2033.86 L712.32,2029.31 L713.23,2027.03 L714.14,2024.75 L721.43,2023.84 L723.25,2024.75 L725.07,2025.66 L726.89,2026.58 L728.72,2026.58 L736.00,2026.58 L743.29,2026.58 L746.93,2026.58 L748.75,2027.49 L750.57,2028.40 L752.40,2046.61 L754.22,2047.07 L759.68,2048.43 L761.50,2049.04 L765.15,2050.26 L767.88,2045.70 L770.61,2051.71 L772.43,2055.72 L773.34,2053.29 L777.90,2041.15 L783.36,2038.96 L785.18,2038.23 L787.00,2037.50 L790.65,2039.78 L794.29,2042.06 L799.75,2040.69 L801.58,2040.24 L803.40,2041.33 L808.86,2044.61 L810.68,2045.70 L811.59,2045.85 L816.15,2046.61 L823.43,2046.61 L825.26,2048.89 L830.72,2055.72 L832.54,2058.45 L834.36,2061.18 L838.01,2046.61 L839.83,2046.38 L844.38,2045.82 L845.29,2045.70 L846.20,2051.47 L848.02,2063.01 L848.93,2063.14 L850.76,2063.40 L854.40,2063.92 L855.31,2061.87 L857.13,2057.77 L858.04,2055.72 L860.77,2055.04 L864.42,2054.13 L865.33,2053.90 L867.15,2053.44 L876.26,2051.17 L885.00,2052.99 L890.46,2052.30 L892.29,2052.08 L894.11,2049.34 L895.93,2046.61 L899.57,2047.52 L901.39,2047.98 L903.21,2048.43 L906.86,2047.52 L908.68,2047.07 L910.50,2046.61 L914.14,2045.88 L915.05,2045.70 L917.79,2043.88 L921.43,2047.52 L924.16,2048.43 L925.98,2033.86 L926.89,2034.59 L928.72,2036.05 L930.54,2037.50 L932.36,2033.86 L933.27,2033.52 L935.09,2032.84 L936.00,2032.50 L937.82,2031.81 L939.64,2031.13 L940.56,2030.32 L943.29,2027.89 L945.11,2026.27 L947.84,2023.84 L952.40,2024.75 L954.22,2040.24 L957.86,2038.42 L963.32,2039.78 L965.15,2040.24 L966.06,2040.33 L972.43,2040.97 L974.25,2041.15 L976.07,2028.40 L979.72,2032.04 L985.18,2034.77 L989.74,2030.22 L994.29,2031.68 L996.11,2036.59 L1003.40,2035.68 L1012.50,2034.77 L1017.97,2031.13 L1021.61,2029.31 L1023.43,2028.40 L1027.08,2018.38 L1030.72,2017.16 L1032.54,2016.56 L1039.83,2014.74 L1044.38,2013.83 L1047.11,2016.56 L1048.93,2017.16 L1052.58,2018.38 L1053.49,2020.43 L1054.40,2022.48 L1056.22,2026.58 L1058.04,2025.66 L1059.86,2024.75 L1061.68,2024.75 L1063.51,2024.75 L1067.15,2024.75 L1068.06,2023.84 L1068.50,2023.84 L1068.50,2233.49 L1065.50,2269.80 L92.20,2269.80Z" fill="#C00000"/>
<path d="M89.20,2271.80 L89.20,2241.51 L92.29,2239.79 L94.11,2238.78 L95.93,2237.64 L97.75,2236.50 L101.39,2234.23 L103.21,2233.86 L105.04,2233.50 L106.86,2233.13 L107.77,2232.95 L110.50,2232.40 L114.14,2232.86 L117.79,2233.32 L123.25,2236.05 L128.72,2236.73 L130.54,2236.96 L133.27,2237.98 L134.18,2238.32 L136.00,2239.01 L137.82,2239.69 L139.64,2239.60 L145.11,2239.33 L146.93,2239.42 L152.40,2239.69 L153.31,2240.03 L154.22,2240.37 L155.13,2240.71 L156.04,2241.06 L159.68,2242.42 L161.50,2242.60 L163.32,2242.79 L166.97,2243.15 L168.79,2243.33 L173.34,2247.13 L174.25,2247.89 L175.16,2248.00 L176.07,2248.11 L179.72,2248.57 L181.54,2248.80 L185.18,2249.10 L188.83,2249.40 L190.65,2249.56 L192.47,2249.71 L194.29,2249.71 L196.11,2249.71 L199.75,2249.71 L203.40,2249.71 L205.22,2249.60 L212.50,2249.16 L219.79,2250.26 L225.26,2247.74 L228.90,2246.07 L232.54,2246.43 L238.01,2246.98 L239.83,2246.98 L245.29,2246.98 L247.11,2247.58 L250.76,2248.80 L252.58,2248.57 L256.22,2248.11 L258.04,2247.89 L259.86,2246.98 L263.51,2245.15 L265.33,2245.38 L270.79,2246.07 L276.26,2245.38 L278.08,2245.15 L282.63,2241.56 L285.00,2239.69 L289.55,2238.17 L290.46,2237.87 L293.20,2239.69 L294.11,2240.30 L295.93,2241.51 L299.57,2243.07 L301.39,2243.85 L302.30,2244.24 L303.21,2243.46 L306.86,2240.34 L308.32,2239.09 L308.68,2238.78 L310.50,2241.97 L312.32,2245.15 L315.97,2244.55 L317.79,2244.24 L319.61,2244.47 L321.43,2244.70 L325.07,2245.15 L328.72,2245.15 L330.54,2245.15 L332.36,2245.15 L336.00,2245.61 L339.64,2246.07 L341.47,2246.07 L345.11,2246.07 L346.93,2246.07 L348.75,2246.07 L350.57,2246.17 L352.40,2246.28 L354.22,2246.39 L356.04,2246.50 L357.86,2246.61 L361.50,2247.12 L365.15,2247.63 L366.97,2247.89 L368.79,2248.07 L374.25,2248.62 L376.07,2248.80 L379.72,2248.94 L385.18,2249.16 L390.65,2249.49 L394.29,2249.71 L399.75,2248.34 L401.58,2247.89 L405.22,2247.58 L412.50,2246.98 L419.79,2246.07 L423.43,2249.71 L427.08,2250.35 L430.72,2250.98 L434.36,2251.57 L439.83,2252.44 L441.65,2252.37 L448.93,2252.08 L452.58,2252.08 L454.40,2252.08 L456.22,2252.08 L458.04,2252.08 L459.86,2251.97 L461.68,2251.86 L465.33,2251.64 L467.15,2251.53 L474.44,2250.80 L476.26,2250.62 L481.72,2249.48 L483.54,2249.10 L485.00,2248.80 L490.46,2248.52 L492.29,2248.43 L495.93,2248.07 L499.57,2247.70 L503.21,2247.34 L505.04,2247.45 L508.68,2247.67 L512.32,2247.89 L515.97,2247.89 L521.43,2247.89 L524.16,2247.50 L528.72,2246.87 L530.54,2246.61 L532.36,2246.50 L533.27,2246.45 L536.00,2246.28 L539.64,2246.07 L543.29,2245.85 L546.93,2245.63 L548.75,2245.52 L550.57,2245.45 L551.48,2245.41 L554.22,2245.30 L557.86,2245.15 L561.50,2243.70 L563.32,2242.97 L565.15,2243.06 L568.79,2243.24 L570.61,2243.33 L571.52,2243.64 L572.43,2243.94 L573.34,2244.24 L576.07,2245.15 L577.90,2245.15 L579.72,2245.15 L581.54,2245.15 L583.36,2245.15 L587.00,2242.42 L590.65,2242.70 L594.29,2242.97 L597.93,2245.88 L599.75,2247.34 L602.49,2248.07 L603.40,2248.31 L605.22,2248.80 L608.86,2248.62 L612.50,2248.43 L613.42,2248.32 L619.79,2247.56 L621.61,2247.34 L627.08,2247.12 L630.72,2246.98 L633.45,2246.87 L638.01,2246.68 L639.83,2246.61 L643.47,2245.88 L645.29,2245.52 L646.20,2245.76 L648.93,2246.49 L650.76,2246.98 L654.40,2249.16 L655.31,2249.71 L656.22,2250.26 L659.86,2249.71 L663.51,2249.16 L665.33,2248.91 L667.15,2248.65 L670.79,2248.14 L672.61,2247.89 L678.08,2249.16 L681.72,2249.45 L685.00,2249.71 L687.73,2249.38 L689.55,2249.16 L690.46,2244.12 L691.92,2236.05 L692.65,2238.40 L693.20,2240.17 L695.02,2246.07 L695.93,2245.86 L697.75,2245.46 L699.57,2245.05 L699.94,2244.97 L702.30,2244.45 L703.21,2244.24 L710.50,2244.24 L712.32,2244.24 L713.23,2244.15 L714.14,2244.06 L721.43,2243.33 L723.25,2242.88 L725.07,2242.42 L726.89,2242.57 L728.72,2242.73 L736.00,2243.33 L743.29,2244.30 L746.93,2244.79 L748.75,2244.20 L750.57,2243.61 L752.40,2243.01 L754.22,2242.42 L759.68,2243.11 L761.50,2243.33 L765.15,2244.06 L767.88,2244.61 L770.61,2245.15 L772.43,2245.38 L773.34,2245.50 L777.90,2246.07 L783.36,2249.71 L785.18,2249.56 L787.00,2249.40 L790.65,2249.10 L794.29,2248.80 L799.75,2249.34 L801.58,2249.53 L803.40,2249.71 L808.86,2246.67 L810.68,2245.66 L811.59,2245.15 L816.15,2248.80 L823.43,2247.89 L825.26,2248.34 L830.72,2249.71 L832.54,2249.82 L834.36,2249.93 L838.01,2250.15 L839.83,2250.26 L844.38,2250.26 L845.29,2250.26 L846.20,2250.26 L848.02,2250.26 L848.93,2250.26 L850.76,2249.96 L854.40,2249.38 L855.31,2249.23 L857.13,2248.94 L858.04,2248.80 L860.77,2245.15 L864.42,2244.24 L865.33,2246.07 L867.15,2249.71 L876.26,2251.53 L885.00,2250.62 L890.46,2250.40 L892.29,2250.33 L894.11,2250.26 L895.93,2250.68 L899.57,2251.53 L901.39,2251.07 L903.21,2250.62 L906.86,2249.71 L908.68,2249.94 L910.50,2250.16 L914.14,2250.62 L915.05,2250.62 L917.79,2250.62 L921.43,2250.62 L924.16,2250.62 L925.98,2241.88 L926.89,2237.50 L928.72,2238.54 L930.54,2239.57 L932.36,2240.60 L933.27,2240.60 L935.09,2240.60 L936.00,2229.37 L937.82,2206.90 L939.64,2220.87 L940.56,2227.85 L943.29,2229.49 L945.11,2230.58 L947.84,2230.58 L952.40,2230.58 L954.22,2230.58 L957.86,2231.68 L963.32,2233.32 L965.15,2233.68 L966.06,2233.86 L972.43,2235.14 L974.25,2235.14 L976.07,2235.14 L979.72,2235.14 L985.18,2235.14 L989.74,2235.41 L994.29,2235.68 L996.11,2235.57 L1003.40,2235.14 L1012.50,2236.41 L1017.97,2236.74 L1021.61,2236.96 L1023.43,2236.59 L1027.08,2235.87 L1030.72,2235.14 L1032.54,2235.50 L1039.83,2236.96 L1044.38,2236.96 L1047.11,2236.96 L1048.93,2236.96 L1052.58,2236.96 L1053.49,2236.96 L1054.40,2235.14 L1056.22,2231.49 L1058.04,2231.80 L1059.86,2232.10 L1061.68,2232.40 L1063.51,2232.14 L1067.15,2231.62 L1068.06,2231.49 L1068.50,2231.49 L1068.50,2271.80Z" fill="#009600"/>
<line x1="67.00" y1="1832.10" x2="1091.20" y2="1832.10" stroke="#000" stroke-width="2.0"/>
<line x1="67.00" y1="2278.80" x2="1091.20" y2="2278.80" stroke="#000" stroke-width="2.0"/>
<line x1="68.30" y1="1831.10" x2="68.30" y2="2279.80" stroke="#000" stroke-width="2.6"/>
<line x1="1089.90" y1="1831.10" x2="1089.90" y2="2279.80" stroke="#000" stroke-width="2.6"/>
<line x1="68.30" y1="1890.10" x2="82.10" y2="1890.10" stroke="#000" stroke-width="2.0"/>
<line x1="1089.90" y1="1890.10" x2="1079.20" y2="1890.10" stroke="#000" stroke-width="2.0"/>
<line x1="68.30" y1="1948.90" x2="82.10" y2="1948.90" stroke="#000" stroke-width="2.0"/>
<line x1="1089.90" y1="1948.90" x2="1079.20" y2="1948.90" stroke="#000" stroke-width="2.0"/>
<line x1="68.30" y1="2001.90" x2="82.10" y2="2001.90" stroke="#000" stroke-width="2.0"/>
<line x1="1089.90" y1="2001.90" x2="1079.20" y2="2001.90" stroke="#000" stroke-width="2.0"/>
<line x1="68.30" y1="2056.90" x2="82.10" y2="2056.90" stroke="#000" stroke-width="2.0"/>
<line x1="1089.90" y1="2056.90" x2="1079.20" y2="2056.90" stroke="#000" stroke-width="2.0"/>
<line x1="68.30" y1="2113.80" x2="82.10" y2="2113.80" stroke="#000" stroke-width="2.0"/>
<line x1="1089.90" y1="2113.80" x2="1079.20" y2="2113.80" stroke="#000" stroke-width="2.0"/>
<line x1="68.30" y1="2170.40" x2="82.10" y2="2170.40" stroke="#000" stroke-width="2.0"/>
<line x1="1089.90" y1="2170.40" x2="1079.20" y2="2170.40" stroke="#000" stroke-width="2.0"/>
<line x1="68.30" y1="2228.90" x2="82.10" y2="2228.90" stroke="#000" stroke-width="2.0"/>
<line x1="1089.90" y1="2228.90" x2="1079.20" y2="2228.90" stroke="#000" stroke-width="2.0"/>
<line x1="340.50" y1="2278.80" x2="340.50" y2="2272.00" stroke="#000" stroke-width="2.6"/>
<line x1="340.50" y1="1832.10" x2="340.50" y2="1839.40" stroke="#000" stroke-width="2.6"/>
<line x1="591.00" y1="2278.80" x2="591.00" y2="2272.00" stroke="#000" stroke-width="2.6"/>
<line x1="591.00" y1="1832.10" x2="591.00" y2="1839.40" stroke="#000" stroke-width="2.6"/>
<line x1="865.00" y1="2278.80" x2="865.00" y2="2272.00" stroke="#000" stroke-width="2.6"/>
<line x1="865.00" y1="1832.10" x2="865.00" y2="1839.40" stroke="#000" stroke-width="2.6"/>
<rect x="342.0" y="2324.6" width="526.0" height="34.2" fill="none" stroke="#222" stroke-width="1.6"/>
<rect x="401.3" y="2337.4" width="13.9" height="8.2" fill="#000"/>
<rect x="547.0" y="2337.4" width="15.0" height="8.2" fill="#C00000"/>
<rect x="738.3" y="2337.4" width="15.0" height="8.2" fill="#009600"/>
<text x="-1.23" y="48.70" font-family="Liberation Serif" font-weight="bold" font-size="18.2" textLength="51.93" lengthAdjust="spacingAndGlyphs">120</text>
<text x="-1.23" y="125.60" font-family="Liberation Serif" font-weight="bold" font-size="18.2" textLength="51.93" lengthAdjust="spacingAndGlyphs">100</text>
<text x="15.83" y="199.30" font-family="Liberation Serif" font-weight="bold" font-size="18.2" textLength="34.78" lengthAdjust="spacingAndGlyphs">80</text>
<text x="15.83" y="273.00" font-family="Liberation Serif" font-weight="bold" font-size="18.2" textLength="34.78" lengthAdjust="spacingAndGlyphs">60</text>
<text x="16.96" y="346.10" font-family="Liberation Serif" font-weight="bold" font-size="18.2" textLength="33.62" lengthAdjust="spacingAndGlyphs">40</text>
<text x="15.83" y="419.70" font-family="Liberation Serif" font-weight="bold" font-size="18.2" textLength="34.78" lengthAdjust="spacingAndGlyphs">20</text>
<text x="31.19" y="494.10" font-family="Liberation Serif" font-weight="bold" font-size="18.2" textLength="19.53" lengthAdjust="spacingAndGlyphs">0</text>
<text x="18.98" y="511.40" font-family="Liberation Serif" font-weight="bold" font-size="18.0" textLength="91.54" lengthAdjust="spacingAndGlyphs">2020.7</text>
<text x="289.97" y="511.40" font-family="Liberation Serif" font-weight="bold" font-size="18.0" textLength="90.08" lengthAdjust="spacingAndGlyphs">2021.1</text>
<text x="547.96" y="511.40" font-family="Liberation Serif" font-weight="bold" font-size="18.0" textLength="91.56" lengthAdjust="spacingAndGlyphs">2021.7</text>
<text x="817.43" y="511.40" font-family="Liberation Serif" font-weight="bold" font-size="18.0" textLength="90.64" lengthAdjust="spacingAndGlyphs">2022.1</text>
<text x="402.88" y="14.90" font-family="Liberation Serif" font-weight="bold" font-size="22.9" textLength="49.78" lengthAdjust="spacingAndGlyphs">(a)</text>
<text x="460.99" y="14.90" font-family="Liberation Serif" font-weight="bold" font-size="22.9" textLength="150.52" lengthAdjust="spacingAndGlyphs">Realized</text>
<text x="614.48" y="14.90" font-family="Liberation Serif" font-weight="bold" font-size="22.9" textLength="166.04" lengthAdjust="spacingAndGlyphs">Volatility</text>
<text x="-1.23" y="643.30" font-family="Liberation Serif" font-weight="bold" font-size="18.2" textLength="51.93" lengthAdjust="spacingAndGlyphs">120</text>
<text x="-1.23" y="720.50" font-family="Liberation Serif" font-weight="bold" font-size="18.2" textLength="51.93" lengthAdjust="spacingAndGlyphs">100</text>
<text x="15.83" y="795.10" font-family="Liberation Serif" font-weight="bold" font-size="18.2" textLength="34.78" lengthAdjust="spacingAndGlyphs">80</text>
<text x="15.83" y="870.10" font-family="Liberation Serif" font-weight="bold" font-size="18.2" textLength="34.78" lengthAdjust="spacingAndGlyphs">60</text>
<text x="16.96" y="942.70" font-family="Liberation Serif" font-weight="bold" font-size="18.2" textLength="33.62" lengthAdjust="spacingAndGlyphs">40</text>
<text x="15.83" y="1018.00" font-family="Liberation Serif" font-weight="bold" font-size="18.2" textLength="34.78" lengthAdjust="spacingAndGlyphs">20</text>
<text x="31.19" y="1093.25" font-family="Liberation Serif" font-weight="bold" font-size="18.2" textLength="19.53" lengthAdjust="spacingAndGlyphs">0</text>
<text x="18.97" y="1111.60" font-family="Liberation Serif" font-weight="bold" font-size="18.0" textLength="91.05" lengthAdjust="spacingAndGlyphs">2020.7</text>
<text x="286.93" y="1111.60" font-family="Liberation Serif" font-weight="bold" font-size="18.0" textLength="91.16" lengthAdjust="spacingAndGlyphs">2021.1</text>
<text x="544.98" y="1111.60" font-family="Liberation Serif" font-weight="bold" font-size="18.0" textLength="91.05" lengthAdjust="spacingAndGlyphs">2021.7</text>
<text x="811.96" y="1111.60" font-family="Liberation Serif" font-weight="bold" font-size="18.0" textLength="91.11" lengthAdjust="spacingAndGlyphs">2022.1</text>
<text x="446.36" y="609.00" font-family="Liberation Serif" font-weight="bold" font-size="22.9" textLength="49.84" lengthAdjust="spacingAndGlyphs">(b)</text>
<text x="507.49" y="609.00" font-family="Liberation Serif" font-weight="bold" font-size="22.9" textLength="110.52" lengthAdjust="spacingAndGlyphs">TBPV</text>
<text x="622.43" y="609.00" font-family="Liberation Serif" font-weight="bold" font-size="22.9" textLength="115.60" lengthAdjust="spacingAndGlyphs">Jumps</text>
<text x="17.78" y="1241.00" font-family="Liberation Serif" font-weight="bold" font-size="18.2" textLength="34.89" lengthAdjust="spacingAndGlyphs">70</text>
<text x="18.93" y="1309.60" font-family="Liberation Serif" font-weight="bold" font-size="18.2" textLength="33.69" lengthAdjust="spacingAndGlyphs">60</text>
<text x="18.93" y="1374.40" font-family="Liberation Serif" font-weight="bold" font-size="18.2" textLength="33.69" lengthAdjust="spacingAndGlyphs">50</text>
<text x="18.98" y="1433.40" font-family="Liberation Serif" font-weight="bold" font-size="18.2" textLength="33.62" lengthAdjust="spacingAndGlyphs">40</text>
<text x="18.93" y="1497.00" font-family="Liberation Serif" font-weight="bold" font-size="18.2" textLength="33.69" lengthAdjust="spacingAndGlyphs">30</text>
<text x="18.93" y="1561.10" font-family="Liberation Serif" font-weight="bold" font-size="18.2" textLength="33.69" lengthAdjust="spacingAndGlyphs">20</text>
<text x="16.55" y="1625.90" font-family="Liberation Serif" font-weight="bold" font-size="18.2" textLength="36.18" lengthAdjust="spacingAndGlyphs">10</text>
<text x="34.20" y="1689.40" font-family="Liberation Serif" font-weight="bold" font-size="18.2" textLength="18.56" lengthAdjust="spacingAndGlyphs">0</text>
<text x="22.46" y="1707.60" font-family="Liberation Serif" font-weight="bold" font-size="18.0" textLength="90.58" lengthAdjust="spacingAndGlyphs">2020.7</text>
<text x="289.94" y="1707.60" font-family="Liberation Serif" font-weight="bold" font-size="18.0" textLength="90.63" lengthAdjust="spacingAndGlyphs">2021.1</text>
<text x="546.46" y="1707.60" font-family="Liberation Serif" font-weight="bold" font-size="18.0" textLength="91.56" lengthAdjust="spacingAndGlyphs">2021.7</text>
<text x="812.96" y="1707.60" font-family="Liberation Serif" font-weight="bold" font-size="18.0" textLength="91.11" lengthAdjust="spacingAndGlyphs">2022.1</text>
<text x="402.38" y="1213.30" font-family="Liberation Serif" font-weight="bold" font-size="22.9" textLength="46.78" lengthAdjust="spacingAndGlyphs">(c)</text>
<text x="457.99" y="1213.30" font-family="Liberation Serif" font-weight="bold" font-size="22.9" textLength="147.02" lengthAdjust="spacingAndGlyphs">Realized</text>
<text x="611.45" y="1213.30" font-family="Liberation Serif" font-weight="bold" font-size="22.9" textLength="167.08" lengthAdjust="spacingAndGlyphs">Skewness</text>
<text x="20.43" y="1837.60" font-family="Liberation Serif" font-weight="bold" font-size="18.2" textLength="33.69" lengthAdjust="spacingAndGlyphs">80</text>
<text x="19.30" y="1896.70" font-family="Liberation Serif" font-weight="bold" font-size="18.2" textLength="34.89" lengthAdjust="spacingAndGlyphs">70</text>
<text x="20.43" y="1955.50" font-family="Liberation Serif" font-weight="bold" font-size="18.2" textLength="33.69" lengthAdjust="spacingAndGlyphs">60</text>
<text x="19.38" y="2008.50" font-family="Liberation Serif" font-weight="bold" font-size="18.2" textLength="34.81" lengthAdjust="spacingAndGlyphs">50</text>
<text x="20.49" y="2063.50" font-family="Liberation Serif" font-weight="bold" font-size="18.2" textLength="33.62" lengthAdjust="spacingAndGlyphs">40</text>
<text x="19.38" y="2120.40" font-family="Liberation Serif" font-weight="bold" font-size="18.2" textLength="34.81" lengthAdjust="spacingAndGlyphs">30</text>
<text x="19.38" y="2177.00" font-family="Liberation Serif" font-weight="bold" font-size="18.2" textLength="34.81" lengthAdjust="spacingAndGlyphs">20</text>
<text x="18.07" y="2235.50" font-family="Liberation Serif" font-weight="bold" font-size="18.2" textLength="36.18" lengthAdjust="spacingAndGlyphs">10</text>
<text x="34.65" y="2285.30" font-family="Liberation Serif" font-weight="bold" font-size="18.2" textLength="19.72" lengthAdjust="spacingAndGlyphs">0</text>
<text x="21.95" y="2302.80" font-family="Liberation Serif" font-weight="bold" font-size="18.0" textLength="91.09" lengthAdjust="spacingAndGlyphs">2020.7</text>
<text x="289.93" y="2302.80" font-family="Liberation Serif" font-weight="bold" font-size="18.0" textLength="89.64" lengthAdjust="spacingAndGlyphs">2021.1</text>
<text x="548.46" y="2302.80" font-family="Liberation Serif" font-weight="bold" font-size="18.0" textLength="88.56" lengthAdjust="spacingAndGlyphs">2021.7</text>
<text x="812.97" y="2302.80" font-family="Liberation Serif" font-weight="bold" font-size="18.0" textLength="90.08" lengthAdjust="spacingAndGlyphs">2022.1</text>
<text x="397.91" y="1810.40" font-family="Liberation Serif" font-weight="bold" font-size="22.9" textLength="51.21" lengthAdjust="spacingAndGlyphs">(d)</text>
<text x="456.98" y="1810.40" font-family="Liberation Serif" font-weight="bold" font-size="22.9" textLength="148.52" lengthAdjust="spacingAndGlyphs">Realized</text>
<text x="614.49" y="1810.40" font-family="Liberation Serif" font-weight="bold" font-size="22.9" textLength="150.53" lengthAdjust="spacingAndGlyphs">Kurtosis</text>
<text x="423.99" y="554.60" font-family="Liberation Sans" font-weight="bold" font-size="16.6" textLength="66.10" lengthAdjust="spacingAndGlyphs">Total</text>
<text x="569.96" y="554.60" font-family="Liberation Sans" font-weight="bold" font-size="16.6" textLength="113.57" lengthAdjust="spacingAndGlyphs">1-5 days</text>
<text x="762.99" y="554.60" font-family="Liberation Sans" font-weight="bold" font-size="16.6" textLength="58.51" lengthAdjust="spacingAndGlyphs">5-inf</text>
<text x="424.00" y="1162.20" font-family="Liberation Sans" font-weight="bold" font-size="16.6" textLength="64.56" lengthAdjust="spacingAndGlyphs">Total</text>
<text x="569.46" y="1162.20" font-family="Liberation Sans" font-weight="bold" font-size="16.6" textLength="112.09" lengthAdjust="spacingAndGlyphs">1-5 days</text>
<text x="761.95" y="1162.20" font-family="Liberation Sans" font-weight="bold" font-size="16.6" textLength="60.05" lengthAdjust="spacingAndGlyphs">5-inf</text>
<text x="422.49" y="1750.40" font-family="Liberation Sans" font-weight="bold" font-size="16.6" textLength="66.11" lengthAdjust="spacingAndGlyphs">Total</text>
<text x="564.46" y="1750.40" font-family="Liberation Sans" font-weight="bold" font-size="16.6" textLength="112.09" lengthAdjust="spacingAndGlyphs">1-5 days</text>
<text x="755.47" y="1750.40" font-family="Liberation Sans" font-weight="bold" font-size="16.6" textLength="59.53" lengthAdjust="spacingAndGlyphs">5-inf</text>
<text x="423.97" y="2346.00" font-family="Liberation Sans" font-weight="bold" font-size="16.6" textLength="66.10" lengthAdjust="spacingAndGlyphs">Total</text>
<text x="566.95" y="2346.00" font-family="Liberation Sans" font-weight="bold" font-size="16.6" textLength="113.09" lengthAdjust="spacingAndGlyphs">1-5 days</text>
<text x="758.47" y="2346.00" font-family="Liberation Sans" font-weight="bold" font-size="16.6" textLength="60.03" lengthAdjust="spacingAndGlyphs">5-inf</text>
</svg>
</body></html>
